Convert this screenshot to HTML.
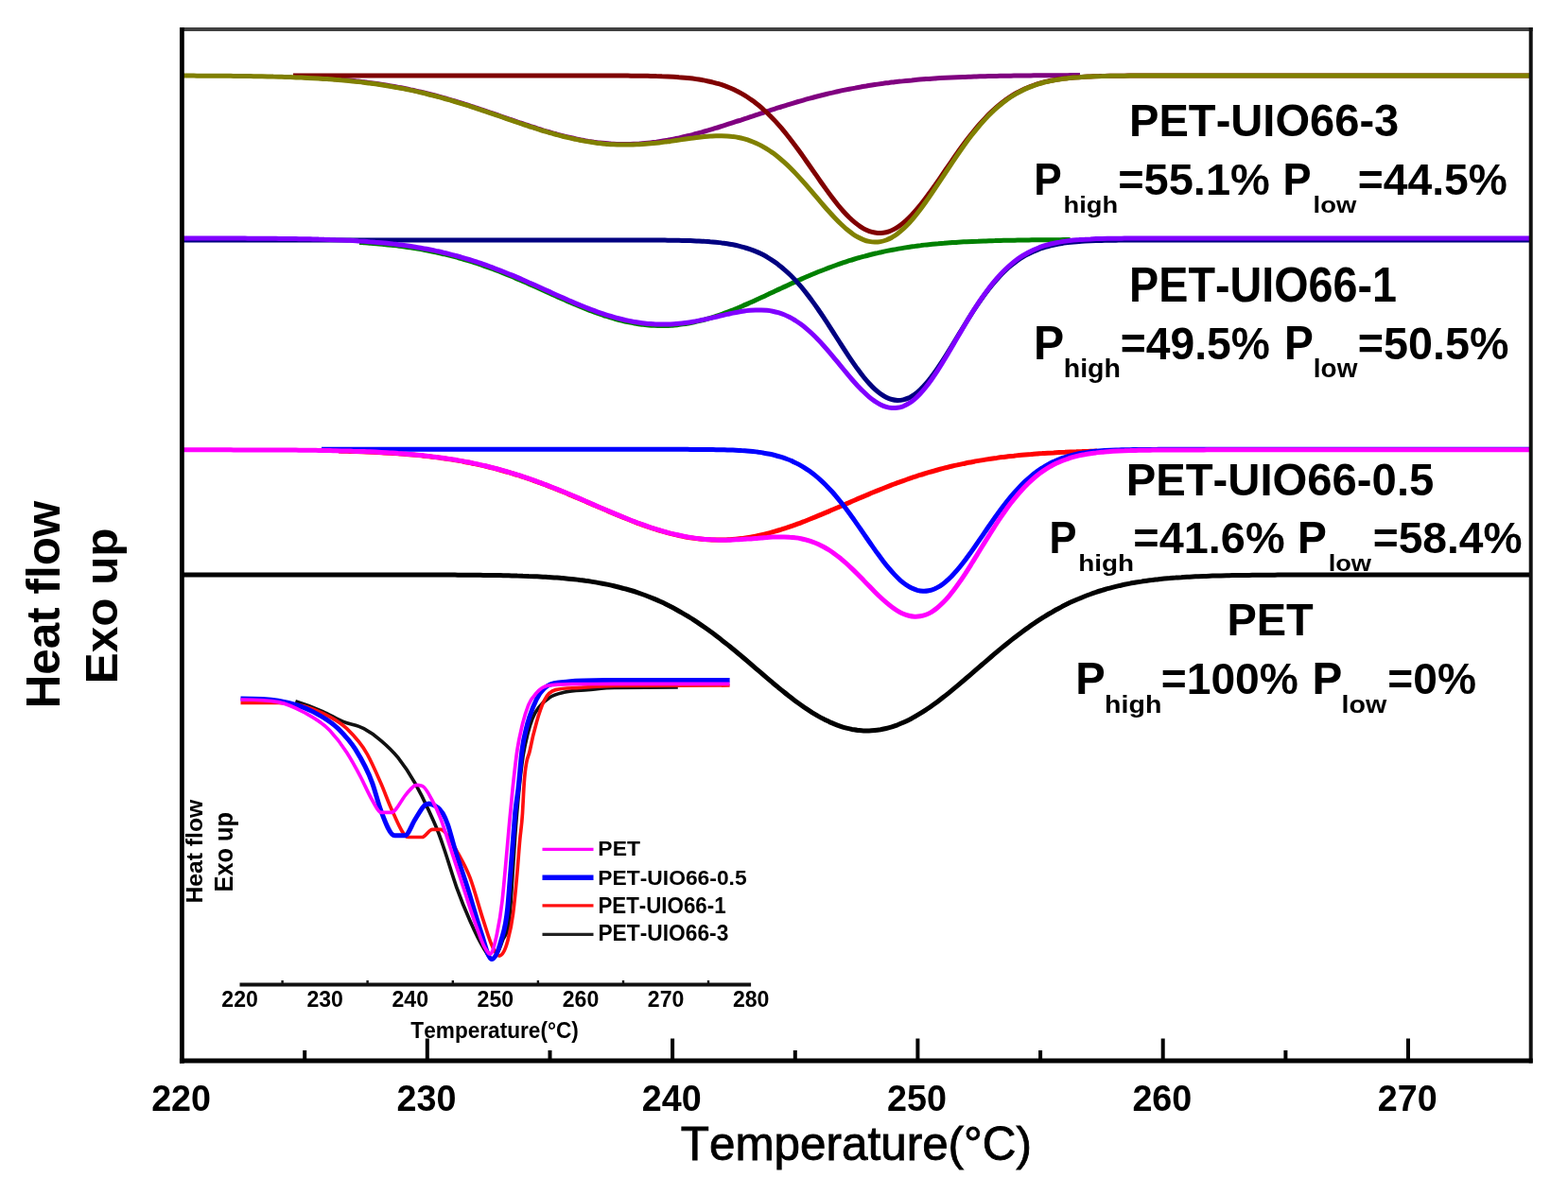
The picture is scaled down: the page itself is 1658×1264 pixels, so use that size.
<!DOCTYPE html>
<html><head><meta charset="utf-8"><title>DSC melting curves</title>
<style>
html,body{margin:0;padding:0;background:#fff;}
body{width:1658px;height:1264px;overflow:hidden;}
svg{display:block;filter:blur(0.5px);}
text{font-family:"Liberation Sans",Arial,Helvetica,sans-serif;fill:#000;font-kerning:none;}
.b{font-weight:bold;}
</style></head>
<body>
<svg width="1658" height="1264" viewBox="0 0 1658 1264">
<rect x="0" y="0" width="1658" height="1264" fill="#fff"/>
<path d="M310.0,81.2 C312.0,81.3 314.0,81.4 316.0,81.5 C318.0,81.6 320.0,81.6 322.0,81.7 C324.0,81.8 326.0,81.9 328.0,82.0 C330.0,82.1 332.0,82.2 334.0,82.3 C336.0,82.5 338.0,82.6 340.0,82.7 C342.0,82.8 344.0,83.0 346.0,83.1 C348.0,83.2 350.0,83.4 352.0,83.5 C354.0,83.7 356.0,83.8 358.0,84.0 C360.0,84.2 362.0,84.4 364.0,84.5 C366.0,84.7 368.0,84.9 370.0,85.1 C372.0,85.3 374.0,85.5 376.0,85.7 C378.0,85.9 380.0,86.2 382.0,86.4 C384.0,86.6 386.0,86.9 388.0,87.1 C390.0,87.4 392.0,87.7 394.0,87.9 C396.0,88.2 398.0,88.5 400.0,88.8 C402.0,89.1 404.0,89.4 406.0,89.7 C408.0,90.0 410.0,90.3 412.0,90.7 C414.0,91.0 416.0,91.4 418.0,91.7 C420.0,92.1 422.0,92.5 424.0,92.8 C426.0,93.2 428.0,93.6 430.0,94.0 C432.0,94.4 434.0,94.9 436.0,95.3 C438.0,95.7 440.0,96.2 442.0,96.6 C444.0,97.1 446.0,97.5 448.0,98.0 C450.0,98.5 452.0,99.0 454.0,99.5 C456.0,100.0 458.0,100.5 460.0,101.0 C462.0,101.6 464.0,102.1 466.0,102.6 C468.0,103.2 470.0,103.8 472.0,104.3 C474.0,104.9 476.0,105.5 478.0,106.1 C480.0,106.7 482.0,107.3 484.0,107.9 C486.0,108.5 488.0,109.1 490.0,109.7 C492.0,110.3 494.0,111.0 496.0,111.6 C498.0,112.3 500.0,112.9 502.0,113.6 C504.0,114.2 506.0,114.9 508.0,115.6 C510.0,116.2 512.0,116.9 514.0,117.6 C516.0,118.3 518.0,119.0 520.0,119.6 C522.0,120.3 524.0,121.0 526.0,121.7 C528.0,122.4 530.0,123.1 532.0,123.8 C534.0,124.5 536.0,125.2 538.0,125.9 C540.0,126.5 542.0,127.2 544.0,127.9 C546.0,128.6 548.0,129.3 550.0,130.0 C552.0,130.6 554.0,131.3 556.0,132.0 C558.0,132.6 560.0,133.3 562.0,134.0 C564.0,134.6 566.0,135.2 568.0,135.9 C570.0,136.5 572.0,137.1 574.0,137.8 C576.0,138.4 578.0,139.0 580.0,139.5 C582.0,140.1 584.0,140.7 586.0,141.3 C588.0,141.8 590.0,142.4 592.0,142.9 C594.0,143.4 596.0,143.9 598.0,144.4 C600.0,144.9 602.0,145.4 604.0,145.8 C606.0,146.3 608.0,146.7 610.0,147.1 C612.0,147.6 614.0,147.9 616.0,148.3 C618.0,148.7 620.0,149.0 622.0,149.4 C624.0,149.7 626.0,150.0 628.0,150.3 C630.0,150.5 632.0,150.8 634.0,151.0 C636.0,151.2 638.0,151.4 640.0,151.6 C642.0,151.8 644.0,151.9 646.0,152.1 C648.0,152.2 650.0,152.3 652.0,152.4 C654.0,152.4 656.0,152.5 658.0,152.5 C660.0,152.5 662.0,152.5 664.0,152.5 C666.0,152.5 668.0,152.4 670.0,152.3 C672.0,152.2 674.0,152.1 676.0,152.0 C678.0,151.8 680.0,151.7 682.0,151.5 C684.0,151.3 686.0,151.1 688.0,150.9 C690.0,150.7 692.0,150.4 694.0,150.2 C696.0,149.9 698.0,149.6 700.0,149.3 C702.0,149.0 704.0,148.6 706.0,148.3 C708.0,147.9 710.0,147.5 712.0,147.1 C714.0,146.7 716.0,146.3 718.0,145.9 C720.0,145.4 722.0,145.0 724.0,144.5 C726.0,144.0 728.0,143.6 730.0,143.1 C732.0,142.6 734.0,142.0 736.0,141.5 C738.0,141.0 740.0,140.4 742.0,139.9 C744.0,139.3 746.0,138.7 748.0,138.1 C750.0,137.6 752.0,137.0 754.0,136.4 C756.0,135.8 758.0,135.1 760.0,134.5 C762.0,133.9 764.0,133.3 766.0,132.6 C768.0,132.0 770.0,131.4 772.0,130.7 C774.0,130.1 776.0,129.4 778.0,128.7 C780.0,128.1 782.0,127.4 784.0,126.8 C786.0,126.1 788.0,125.4 790.0,124.8 C792.0,124.1 794.0,123.4 796.0,122.8 C798.0,122.1 800.0,121.4 802.0,120.8 C804.0,120.1 806.0,119.5 808.0,118.8 C810.0,118.1 812.0,117.5 814.0,116.8 C816.0,116.2 818.0,115.5 820.0,114.9 C822.0,114.3 824.0,113.6 826.0,113.0 C828.0,112.4 830.0,111.7 832.0,111.1 C834.0,110.5 836.0,109.9 838.0,109.3 C840.0,108.7 842.0,108.1 844.0,107.5 C846.0,107.0 848.0,106.4 850.0,105.8 C852.0,105.2 854.0,104.7 856.0,104.1 C858.0,103.6 860.0,103.1 862.0,102.5 C864.0,102.0 866.0,101.5 868.0,101.0 C870.0,100.5 872.0,100.0 874.0,99.5 C876.0,99.0 878.0,98.5 880.0,98.1 C882.0,97.6 884.0,97.2 886.0,96.7 C888.0,96.3 890.0,95.9 892.0,95.4 C894.0,95.0 896.0,94.6 898.0,94.2 C900.0,93.8 902.0,93.4 904.0,93.1 C906.0,92.7 908.0,92.3 910.0,92.0 C912.0,91.6 914.0,91.3 916.0,91.0 C918.0,90.6 920.0,90.3 922.0,90.0 C924.0,89.7 926.0,89.4 928.0,89.1 C930.0,88.8 932.0,88.5 934.0,88.2 C936.0,88.0 938.0,87.7 940.0,87.5 C942.0,87.2 944.0,87.0 946.0,86.7 C948.0,86.5 950.0,86.3 952.0,86.1 C954.0,85.8 956.0,85.6 958.0,85.4 C960.0,85.2 962.0,85.0 964.0,84.9 C966.0,84.7 968.0,84.5 970.0,84.3 C972.0,84.2 974.0,84.0 976.0,83.8 C978.0,83.7 980.0,83.5 982.0,83.4 C984.0,83.3 986.0,83.1 988.0,83.0 C990.0,82.9 992.0,82.7 994.0,82.6 C996.0,82.5 998.0,82.4 1000.0,82.3 C1002.0,82.2 1004.0,82.1 1006.0,82.0 C1008.0,81.9 1010.0,81.8 1012.0,81.7 C1014.0,81.6 1016.0,81.5 1018.0,81.4 C1020.0,81.4 1022.0,81.3 1024.0,81.2 C1026.0,81.2 1028.0,81.1 1030.0,81.0 C1032.0,81.0 1034.0,80.9 1036.0,80.8 C1038.0,80.8 1040.0,80.7 1042.0,80.7 C1044.0,80.6 1046.0,80.6 1048.0,80.5 C1050.0,80.5 1052.0,80.4 1054.0,80.4 C1056.0,80.4 1058.0,80.3 1060.0,80.3 C1062.0,80.3 1064.0,80.2 1066.0,80.2 C1068.0,80.2 1070.0,80.1 1072.0,80.1 C1074.0,80.1 1076.0,80.0 1078.0,80.0 C1080.0,80.0 1082.0,80.0 1084.0,80.0 C1086.0,80.0 1088.0,79.9 1090.0,79.9 C1092.0,79.9 1094.0,79.8 1096.0,79.8 C1098.0,79.8 1100.0,79.8 1102.0,79.8 C1104.0,79.8 1106.0,79.8 1108.0,79.8 C1110.0,79.8 1112.0,79.7 1114.0,79.7 C1116.0,79.7 1118.0,79.7 1120.0,79.7 C1122.0,79.7 1124.0,79.7 1126.0,79.7 C1128.0,79.7 1130.0,79.6 1132.0,79.6 C1134.0,79.6 1136.0,79.6 1138.0,79.6 C1139.3,79.6 1140.7,79.6 1142.0,79.6" fill="none" stroke="#800080" stroke-width="5.0" stroke-linejoin="round" stroke-linecap="butt" />
<path d="M310.0,80.0 C312.0,80.0 314.0,80.0 316.0,80.0 C318.0,80.0 320.0,80.0 322.0,80.0 C324.0,80.0 326.0,80.0 328.0,80.0 C330.0,80.0 332.0,80.0 334.0,80.0 C336.0,80.0 338.0,80.0 340.0,80.0 C342.0,80.0 344.0,80.0 346.0,80.0 C348.0,80.0 350.0,80.0 352.0,80.0 C354.0,80.0 356.0,80.0 358.0,80.0 C360.0,80.0 362.0,80.0 364.0,80.0 C366.0,80.0 368.0,80.0 370.0,80.0 C372.0,80.0 374.0,80.0 376.0,80.0 C378.0,80.0 380.0,80.0 382.0,80.0 C384.0,80.0 386.0,80.0 388.0,80.0 C390.0,80.0 392.0,80.0 394.0,80.0 C396.0,80.0 398.0,80.0 400.0,80.0 C402.0,80.0 404.0,80.0 406.0,80.0 C408.0,80.0 410.0,80.0 412.0,80.0 C414.0,80.0 416.0,80.0 418.0,80.0 C420.0,80.0 422.0,80.0 424.0,80.0 C426.0,80.0 428.0,80.0 430.0,80.0 C432.0,80.0 434.0,80.0 436.0,80.0 C438.0,80.0 440.0,80.0 442.0,80.0 C444.0,80.0 446.0,80.0 448.0,80.0 C450.0,80.0 452.0,80.0 454.0,80.0 C456.0,80.0 458.0,80.0 460.0,80.0 C462.0,80.0 464.0,80.0 466.0,80.0 C468.0,80.0 470.0,80.0 472.0,80.0 C474.0,80.0 476.0,80.0 478.0,80.0 C480.0,80.0 482.0,80.0 484.0,80.0 C486.0,80.0 488.0,80.0 490.0,80.0 C492.0,80.0 494.0,80.0 496.0,80.0 C498.0,80.0 500.0,80.0 502.0,80.0 C504.0,80.0 506.0,80.0 508.0,80.0 C510.0,80.0 512.0,80.0 514.0,80.0 C516.0,80.0 518.0,80.0 520.0,80.0 C522.0,80.0 524.0,80.0 526.0,80.0 C528.0,80.0 530.0,80.0 532.0,80.0 C534.0,80.0 536.0,80.0 538.0,80.0 C540.0,80.0 542.0,80.0 544.0,80.0 C546.0,80.0 548.0,80.0 550.0,80.0 C552.0,80.0 554.0,80.0 556.0,80.0 C558.0,80.0 560.0,80.0 562.0,80.0 C564.0,80.0 566.0,80.0 568.0,80.0 C570.0,80.0 572.0,80.0 574.0,80.0 C576.0,80.0 578.0,80.0 580.0,80.0 C582.0,80.0 584.0,80.0 586.0,80.0 C588.0,80.0 590.0,80.0 592.0,80.0 C594.0,80.0 596.0,80.0 598.0,80.0 C600.0,80.0 602.0,80.0 604.0,80.0 C606.0,80.0 608.0,80.0 610.0,80.0 C612.0,80.0 614.0,80.0 616.0,80.0 C618.0,80.0 620.0,80.0 622.0,80.0 C624.0,80.0 626.0,80.0 628.0,80.0 C630.0,80.0 632.0,80.0 634.0,80.0 C636.0,80.0 638.0,80.0 640.0,80.0 C642.0,80.0 644.0,80.0 646.0,80.0 C648.0,80.0 650.0,80.1 652.0,80.1 C654.0,80.1 656.0,80.1 658.0,80.1 C660.0,80.1 662.0,80.1 664.0,80.1 C666.0,80.1 668.0,80.2 670.0,80.2 C672.0,80.2 674.0,80.2 676.0,80.2 C678.0,80.2 680.0,80.3 682.0,80.3 C684.0,80.3 686.0,80.4 688.0,80.4 C690.0,80.4 692.0,80.5 694.0,80.6 C696.0,80.6 698.0,80.7 700.0,80.8 C702.0,80.8 704.0,80.9 706.0,81.0 C708.0,81.1 710.0,81.2 712.0,81.3 C714.0,81.4 716.0,81.5 718.0,81.7 C720.0,81.8 722.0,82.0 724.0,82.2 C726.0,82.4 728.0,82.6 730.0,82.8 C732.0,83.0 734.0,83.3 736.0,83.6 C738.0,83.9 740.0,84.2 742.0,84.5 C744.0,84.9 746.0,85.2 748.0,85.7 C750.0,86.1 752.0,86.5 754.0,87.1 C756.0,87.6 758.0,88.1 760.0,88.7 C762.0,89.3 764.0,90.0 766.0,90.7 C768.0,91.4 770.0,92.2 772.0,93.0 C774.0,93.9 776.0,94.8 778.0,95.8 C780.0,96.7 782.0,97.8 784.0,98.9 C786.0,100.0 788.0,101.2 790.0,102.5 C792.0,103.8 794.0,105.2 796.0,106.6 C798.0,108.1 800.0,109.7 802.0,111.3 C804.0,112.9 806.0,114.6 808.0,116.5 C810.0,118.3 812.0,120.2 814.0,122.2 C816.0,124.2 818.0,126.3 820.0,128.4 C822.0,130.6 824.0,132.9 826.0,135.2 C828.0,137.6 830.0,140.0 832.0,142.5 C834.0,145.0 836.0,147.6 838.0,150.2 C840.0,152.8 842.0,155.5 844.0,158.3 C846.0,161.0 848.0,163.8 850.0,166.7 C852.0,169.5 854.0,172.4 856.0,175.2 C858.0,178.1 860.0,181.0 862.0,183.9 C864.0,186.7 866.0,189.6 868.0,192.5 C870.0,195.3 872.0,198.1 874.0,200.9 C876.0,203.7 878.0,206.4 880.0,209.0 C882.0,211.6 884.0,214.2 886.0,216.7 C888.0,219.1 890.0,221.5 892.0,223.7 C894.0,225.9 896.0,228.0 898.0,230.0 C900.0,231.9 902.0,233.8 904.0,235.4 C906.0,237.0 908.0,238.5 910.0,239.8 C912.0,241.1 914.0,242.3 916.0,243.2 C918.0,244.1 920.0,244.9 922.0,245.4 C924.0,246.0 926.0,246.3 928.0,246.4 C930.0,246.6 932.0,246.4 934.0,246.2 C936.0,246.0 938.0,245.5 940.0,244.8 C942.0,244.1 944.0,243.2 946.0,242.1 C948.0,241.0 950.0,239.7 952.0,238.2 C954.0,236.8 956.0,235.1 958.0,233.3 C960.0,231.5 962.0,229.6 964.0,227.5 C966.0,225.4 968.0,223.1 970.0,220.7 C972.0,218.4 974.0,215.9 976.0,213.3 C978.0,210.8 980.0,208.1 982.0,205.3 C984.0,202.6 986.0,199.8 988.0,196.9 C990.0,194.1 992.0,191.2 994.0,188.3 C996.0,185.4 998.0,182.4 1000.0,179.5 C1002.0,176.6 1004.0,173.7 1006.0,170.8 C1008.0,167.9 1010.0,165.0 1012.0,162.2 C1014.0,159.3 1016.0,156.6 1018.0,153.8 C1020.0,151.1 1022.0,148.4 1024.0,145.8 C1026.0,143.2 1028.0,140.7 1030.0,138.3 C1032.0,135.8 1034.0,133.4 1036.0,131.2 C1038.0,128.9 1040.0,126.7 1042.0,124.6 C1044.0,122.5 1046.0,120.5 1048.0,118.6 C1050.0,116.7 1052.0,114.8 1054.0,113.1 C1056.0,111.4 1058.0,109.8 1060.0,108.2 C1062.0,106.7 1064.0,105.2 1066.0,103.9 C1068.0,102.5 1070.0,101.2 1072.0,100.0 C1074.0,98.8 1076.0,97.7 1078.0,96.7 C1080.0,95.6 1082.0,94.7 1084.0,93.8 C1086.0,92.9 1088.0,92.1 1090.0,91.3 C1092.0,90.6 1094.0,89.9 1096.0,89.2 C1098.0,88.6 1100.0,88.0 1102.0,87.4 C1104.0,86.9 1106.0,86.4 1108.0,86.0 C1110.0,85.5 1112.0,85.1 1114.0,84.8 C1116.0,84.4 1118.0,84.1 1120.0,83.8 C1122.0,83.5 1124.0,83.2 1126.0,82.9 C1128.0,82.7 1130.0,82.5 1132.0,82.3 C1134.0,82.1 1136.0,81.9 1138.0,81.8 C1140.0,81.6 1142.0,81.5 1144.0,81.4 C1146.0,81.2 1148.0,81.1 1150.0,81.0 C1152.0,80.9 1154.0,80.9 1156.0,80.8 C1158.0,80.7 1160.0,80.6 1162.0,80.6 C1164.0,80.5 1166.0,80.4 1168.0,80.4 C1170.0,80.4 1172.0,80.3 1174.0,80.3 C1176.0,80.3 1178.0,80.2 1180.0,80.2 C1182.0,80.2 1184.0,80.2 1186.0,80.2 C1188.0,80.2 1190.0,80.1 1192.0,80.1 C1194.0,80.1 1196.0,80.1 1198.0,80.1 C1200.0,80.1 1202.0,80.1 1204.0,80.1 C1206.0,80.1 1208.0,80.0 1210.0,80.0 C1212.0,80.0 1214.0,80.0 1216.0,80.0 C1218.0,80.0 1220.0,80.0 1222.0,80.0 C1224.0,80.0 1226.0,80.0 1228.0,80.0 C1230.0,80.0 1232.0,80.0 1234.0,80.0 C1236.0,80.0 1238.0,80.0 1240.0,80.0 C1242.0,80.0 1244.0,80.0 1246.0,80.0 C1248.0,80.0 1250.0,80.0 1252.0,80.0 C1254.0,80.0 1256.0,80.0 1258.0,80.0 C1260.0,80.0 1262.0,80.0 1264.0,80.0 C1266.0,80.0 1268.0,80.0 1270.0,80.0 C1272.0,80.0 1274.0,80.0 1276.0,80.0 C1278.0,80.0 1280.0,80.0 1282.0,80.0 C1284.0,80.0 1286.0,80.0 1288.0,80.0 C1290.0,80.0 1292.0,80.0 1294.0,80.0 C1296.0,80.0 1298.0,80.0 1300.0,80.0 C1302.0,80.0 1304.0,80.0 1306.0,80.0 C1308.0,80.0 1310.0,80.0 1312.0,80.0 C1314.0,80.0 1316.0,80.0 1318.0,80.0 C1320.0,80.0 1322.0,80.0 1324.0,80.0 C1326.0,80.0 1328.0,80.0 1330.0,80.0 C1332.0,80.0 1334.0,80.0 1336.0,80.0 C1338.0,80.0 1340.0,80.0 1342.0,80.0 C1344.0,80.0 1346.0,80.0 1348.0,80.0 C1350.0,80.0 1352.0,80.0 1354.0,80.0 C1356.0,80.0 1358.0,80.0 1360.0,80.0 C1362.0,80.0 1364.0,80.0 1366.0,80.0 C1368.0,80.0 1370.0,80.0 1372.0,80.0 C1374.0,80.0 1376.0,80.0 1378.0,80.0 C1380.0,80.0 1382.0,80.0 1384.0,80.0 C1386.0,80.0 1388.0,80.0 1390.0,80.0 C1392.0,80.0 1394.0,80.0 1396.0,80.0 C1398.0,80.0 1400.0,80.0 1402.0,80.0 C1404.0,80.0 1406.0,80.0 1408.0,80.0 C1410.0,80.0 1412.0,80.0 1414.0,80.0 C1416.0,80.0 1418.0,80.0 1420.0,80.0 C1422.0,80.0 1424.0,80.0 1426.0,80.0 C1428.0,80.0 1430.0,80.0 1432.0,80.0 C1434.0,80.0 1436.0,80.0 1438.0,80.0 C1440.0,80.0 1442.0,80.0 1444.0,80.0 C1446.0,80.0 1448.0,80.0 1450.0,80.0 C1452.0,80.0 1454.0,80.0 1456.0,80.0 C1458.0,80.0 1460.0,80.0 1462.0,80.0 C1464.0,80.0 1466.0,80.0 1468.0,80.0 C1470.0,80.0 1472.0,80.0 1474.0,80.0 C1476.0,80.0 1478.0,80.0 1480.0,80.0 C1482.0,80.0 1484.0,80.0 1486.0,80.0 C1488.0,80.0 1490.0,80.0 1492.0,80.0 C1494.0,80.0 1496.0,80.0 1498.0,80.0 C1500.0,80.0 1502.0,80.0 1504.0,80.0 C1506.0,80.0 1508.0,80.0 1510.0,80.0 C1512.0,80.0 1514.0,80.0 1516.0,80.0 C1518.0,80.0 1520.0,80.0 1522.0,80.0 C1524.0,80.0 1526.0,80.0 1528.0,80.0 C1530.0,80.0 1532.0,80.0 1534.0,80.0 C1536.0,80.0 1538.0,80.0 1540.0,80.0 C1542.0,80.0 1544.0,80.0 1546.0,80.0 C1548.0,80.0 1550.0,80.0 1552.0,80.0 C1554.0,80.0 1556.0,80.0 1558.0,80.0 C1560.0,80.0 1562.0,80.0 1564.0,80.0 C1566.0,80.0 1568.0,80.0 1570.0,80.0 C1572.0,80.0 1574.0,80.0 1576.0,80.0 C1578.0,80.0 1580.0,80.0 1582.0,80.0 C1584.0,80.0 1586.0,80.0 1588.0,80.0 C1590.0,80.0 1592.0,80.0 1594.0,80.0 C1596.0,80.0 1598.0,80.0 1600.0,80.0 C1602.0,80.0 1604.0,80.0 1606.0,80.0 C1608.0,80.0 1610.0,80.0 1612.0,80.0 C1613.7,80.0 1615.3,80.0 1617.0,80.0" fill="none" stroke="#800000" stroke-width="5.0" stroke-linejoin="round" stroke-linecap="butt" />
<path d="M193.0,80.1 C195.0,80.1 197.0,80.1 199.0,80.1 C201.0,80.1 203.0,80.1 205.0,80.1 C207.0,80.1 209.0,80.2 211.0,80.2 C213.0,80.2 215.0,80.2 217.0,80.2 C219.0,80.2 221.0,80.2 223.0,80.2 C225.0,80.2 227.0,80.3 229.0,80.3 C231.0,80.3 233.0,80.3 235.0,80.3 C237.0,80.3 239.0,80.3 241.0,80.3 C243.0,80.3 245.0,80.4 247.0,80.4 C249.0,80.4 251.0,80.5 253.0,80.5 C255.0,80.5 257.0,80.5 259.0,80.5 C261.0,80.5 263.0,80.6 265.0,80.6 C267.0,80.6 269.0,80.7 271.0,80.7 C273.0,80.7 275.0,80.8 277.0,80.8 C279.0,80.8 281.0,80.9 283.0,81.0 C285.0,81.0 287.0,81.0 289.0,81.1 C291.0,81.1 293.0,81.2 295.0,81.3 C297.0,81.3 299.0,81.4 301.0,81.4 C303.0,81.5 305.0,81.6 307.0,81.6 C309.0,81.7 311.0,81.8 313.0,81.9 C315.0,81.9 317.0,82.0 319.0,82.1 C321.0,82.2 323.0,82.3 325.0,82.4 C327.0,82.5 329.0,82.6 331.0,82.7 C333.0,82.8 335.0,82.9 337.0,83.0 C339.0,83.1 341.0,83.3 343.0,83.4 C345.0,83.5 347.0,83.7 349.0,83.8 C351.0,84.0 353.0,84.1 355.0,84.3 C357.0,84.4 359.0,84.6 361.0,84.8 C363.0,84.9 365.0,85.1 367.0,85.3 C369.0,85.5 371.0,85.7 373.0,85.9 C375.0,86.1 377.0,86.3 379.0,86.6 C381.0,86.8 383.0,87.0 385.0,87.3 C387.0,87.5 389.0,87.8 391.0,88.0 C393.0,88.3 395.0,88.6 397.0,88.8 C399.0,89.1 401.0,89.4 403.0,89.7 C405.0,90.0 407.0,90.3 409.0,90.7 C411.0,91.0 413.0,91.3 415.0,91.7 C417.0,92.0 419.0,92.4 421.0,92.8 C423.0,93.1 425.0,93.5 427.0,93.9 C429.0,94.3 431.0,94.7 433.0,95.1 C435.0,95.6 437.0,96.0 439.0,96.4 C441.0,96.9 443.0,97.3 445.0,97.8 C447.0,98.3 449.0,98.8 451.0,99.2 C453.0,99.7 455.0,100.2 457.0,100.8 C459.0,101.3 461.0,101.8 463.0,102.3 C465.0,102.9 467.0,103.4 469.0,104.0 C471.0,104.5 473.0,105.1 475.0,105.7 C477.0,106.3 479.0,106.9 481.0,107.5 C483.0,108.1 485.0,108.7 487.0,109.3 C489.0,109.9 491.0,110.5 493.0,111.2 C495.0,111.8 497.0,112.4 499.0,113.1 C501.0,113.7 503.0,114.4 505.0,115.1 C507.0,115.7 509.0,116.4 511.0,117.1 C513.0,117.7 515.0,118.4 517.0,119.1 C519.0,119.8 521.0,120.5 523.0,121.2 C525.0,121.9 527.0,122.5 529.0,123.2 C531.0,123.9 533.0,124.6 535.0,125.3 C537.0,126.0 539.0,126.7 541.0,127.4 C543.0,128.1 545.0,128.8 547.0,129.4 C549.0,130.1 551.0,130.8 553.0,131.5 C555.0,132.1 557.0,132.8 559.0,133.5 C561.0,134.1 563.0,134.8 565.0,135.4 C567.0,136.1 569.0,136.7 571.0,137.3 C573.0,137.9 575.0,138.6 577.0,139.2 C579.0,139.8 581.0,140.3 583.0,140.9 C585.0,141.5 587.0,142.0 589.0,142.6 C591.0,143.1 593.0,143.7 595.0,144.2 C597.0,144.7 599.0,145.2 601.0,145.6 C603.0,146.1 605.0,146.6 607.0,147.0 C609.0,147.4 611.0,147.9 613.0,148.2 C615.0,148.6 617.0,149.0 619.0,149.4 C621.0,149.7 623.0,150.0 625.0,150.3 C627.0,150.6 629.0,150.9 631.0,151.2 C633.0,151.4 635.0,151.7 637.0,151.9 C639.0,152.1 641.0,152.2 643.0,152.4 C645.0,152.6 647.0,152.7 649.0,152.8 C651.0,152.9 653.0,153.0 655.0,153.0 C657.0,153.0 659.0,153.1 661.0,153.1 C663.0,153.1 665.0,153.0 667.0,153.0 C669.0,153.0 671.0,152.9 673.0,152.8 C675.0,152.8 677.0,152.7 679.0,152.5 C681.0,152.4 683.0,152.3 685.0,152.1 C687.0,151.9 689.0,151.7 691.0,151.5 C693.0,151.3 695.0,151.1 697.0,150.9 C699.0,150.7 701.0,150.4 703.0,150.1 C705.0,149.9 707.0,149.6 709.0,149.4 C711.0,149.1 713.0,148.8 715.0,148.5 C717.0,148.2 719.0,147.9 721.0,147.6 C723.0,147.4 725.0,147.1 727.0,146.8 C729.0,146.5 731.0,146.2 733.0,146.0 C735.0,145.7 737.0,145.4 739.0,145.2 C741.0,145.0 743.0,144.8 745.0,144.6 C747.0,144.4 749.0,144.2 751.0,144.1 C753.0,144.0 755.0,143.8 757.0,143.8 C759.0,143.8 761.0,143.8 763.0,143.8 C765.0,143.8 767.0,143.9 769.0,144.0 C771.0,144.1 773.0,144.3 775.0,144.6 C777.0,144.8 779.0,145.1 781.0,145.5 C783.0,145.9 785.0,146.4 787.0,146.9 C789.0,147.5 791.0,148.1 793.0,148.8 C795.0,149.5 797.0,150.3 799.0,151.2 C801.0,152.1 803.0,153.0 805.0,154.1 C807.0,155.2 809.0,156.3 811.0,157.6 C813.0,158.8 815.0,160.2 817.0,161.6 C819.0,163.1 821.0,164.6 823.0,166.2 C825.0,167.8 827.0,169.6 829.0,171.4 C831.0,173.2 833.0,175.0 835.0,177.0 C837.0,179.0 839.0,181.0 841.0,183.1 C843.0,185.2 845.0,187.4 847.0,189.6 C849.0,191.8 851.0,194.1 853.0,196.4 C855.0,198.7 857.0,201.0 859.0,203.4 C861.0,205.7 863.0,208.1 865.0,210.4 C867.0,212.8 869.0,215.2 871.0,217.5 C873.0,219.8 875.0,222.1 877.0,224.3 C879.0,226.5 881.0,228.7 883.0,230.8 C885.0,232.9 887.0,234.9 889.0,236.8 C891.0,238.7 893.0,240.6 895.0,242.3 C897.0,243.9 899.0,245.5 901.0,246.9 C903.0,248.4 905.0,249.7 907.0,250.8 C909.0,251.9 911.0,252.8 913.0,253.6 C915.0,254.4 917.0,255.0 919.0,255.4 C921.0,255.8 923.0,256.1 925.0,256.1 C927.0,256.1 929.0,256.0 931.0,255.6 C933.0,255.3 935.0,254.7 937.0,254.0 C939.0,253.2 941.0,252.3 943.0,251.2 C945.0,250.0 947.0,248.7 949.0,247.2 C951.0,245.7 953.0,244.0 955.0,242.2 C957.0,240.3 959.0,238.3 961.0,236.2 C963.0,234.0 965.0,231.7 967.0,229.3 C969.0,226.9 971.0,224.3 973.0,221.7 C975.0,219.1 977.0,216.3 979.0,213.5 C981.0,210.7 983.0,207.8 985.0,204.9 C987.0,201.9 989.0,198.9 991.0,195.9 C993.0,192.9 995.0,189.9 997.0,186.9 C999.0,183.8 1001.0,180.8 1003.0,177.8 C1005.0,174.8 1007.0,171.7 1009.0,168.8 C1011.0,165.8 1013.0,162.9 1015.0,160.0 C1017.0,157.2 1019.0,154.4 1021.0,151.6 C1023.0,148.9 1025.0,146.2 1027.0,143.6 C1029.0,141.0 1031.0,138.5 1033.0,136.1 C1035.0,133.7 1037.0,131.3 1039.0,129.1 C1041.0,126.8 1043.0,124.7 1045.0,122.6 C1047.0,120.6 1049.0,118.6 1051.0,116.7 C1053.0,114.9 1055.0,113.1 1057.0,111.5 C1059.0,109.8 1061.0,108.2 1063.0,106.7 C1065.0,105.2 1067.0,103.8 1069.0,102.5 C1071.0,101.2 1073.0,100.0 1075.0,98.9 C1077.0,97.7 1079.0,96.7 1081.0,95.7 C1083.0,94.7 1085.0,93.8 1087.0,92.9 C1089.0,92.1 1091.0,91.3 1093.0,90.6 C1095.0,89.9 1097.0,89.2 1099.0,88.6 C1101.0,88.0 1103.0,87.5 1105.0,86.9 C1107.0,86.4 1109.0,86.0 1111.0,85.6 C1113.0,85.1 1115.0,84.8 1117.0,84.4 C1119.0,84.1 1121.0,83.8 1123.0,83.5 C1125.0,83.2 1127.0,83.0 1129.0,82.7 C1131.0,82.5 1133.0,82.3 1135.0,82.1 C1137.0,82.0 1139.0,81.8 1141.0,81.7 C1143.0,81.5 1145.0,81.4 1147.0,81.3 C1149.0,81.2 1151.0,81.1 1153.0,81.0 C1155.0,80.9 1157.0,80.8 1159.0,80.7 C1161.0,80.7 1163.0,80.6 1165.0,80.6 C1167.0,80.5 1169.0,80.4 1171.0,80.4 C1173.0,80.4 1175.0,80.3 1177.0,80.3 C1179.0,80.3 1181.0,80.2 1183.0,80.2 C1185.0,80.2 1187.0,80.2 1189.0,80.2 C1191.0,80.2 1193.0,80.1 1195.0,80.1 C1197.0,80.1 1199.0,80.1 1201.0,80.1 C1203.0,80.1 1205.0,80.1 1207.0,80.1 C1209.0,80.1 1211.0,80.0 1213.0,80.0 C1215.0,80.0 1217.0,80.0 1219.0,80.0 C1221.0,80.0 1223.0,80.0 1225.0,80.0 C1227.0,80.0 1229.0,80.0 1231.0,80.0 C1233.0,80.0 1235.0,80.0 1237.0,80.0 C1239.0,80.0 1241.0,80.0 1243.0,80.0 C1245.0,80.0 1247.0,80.0 1249.0,80.0 C1251.0,80.0 1253.0,80.0 1255.0,80.0 C1257.0,80.0 1259.0,80.0 1261.0,80.0 C1263.0,80.0 1265.0,80.0 1267.0,80.0 C1269.0,80.0 1271.0,80.0 1273.0,80.0 C1275.0,80.0 1277.0,80.0 1279.0,80.0 C1281.0,80.0 1283.0,80.0 1285.0,80.0 C1287.0,80.0 1289.0,80.0 1291.0,80.0 C1293.0,80.0 1295.0,80.0 1297.0,80.0 C1299.0,80.0 1301.0,80.0 1303.0,80.0 C1305.0,80.0 1307.0,80.0 1309.0,80.0 C1311.0,80.0 1313.0,80.0 1315.0,80.0 C1317.0,80.0 1319.0,80.0 1321.0,80.0 C1323.0,80.0 1325.0,80.0 1327.0,80.0 C1329.0,80.0 1331.0,80.0 1333.0,80.0 C1335.0,80.0 1337.0,80.0 1339.0,80.0 C1341.0,80.0 1343.0,80.0 1345.0,80.0 C1347.0,80.0 1349.0,80.0 1351.0,80.0 C1353.0,80.0 1355.0,80.0 1357.0,80.0 C1359.0,80.0 1361.0,80.0 1363.0,80.0 C1365.0,80.0 1367.0,80.0 1369.0,80.0 C1371.0,80.0 1373.0,80.0 1375.0,80.0 C1377.0,80.0 1379.0,80.0 1381.0,80.0 C1383.0,80.0 1385.0,80.0 1387.0,80.0 C1389.0,80.0 1391.0,80.0 1393.0,80.0 C1395.0,80.0 1397.0,80.0 1399.0,80.0 C1401.0,80.0 1403.0,80.0 1405.0,80.0 C1407.0,80.0 1409.0,80.0 1411.0,80.0 C1413.0,80.0 1415.0,80.0 1417.0,80.0 C1419.0,80.0 1421.0,80.0 1423.0,80.0 C1425.0,80.0 1427.0,80.0 1429.0,80.0 C1431.0,80.0 1433.0,80.0 1435.0,80.0 C1437.0,80.0 1439.0,80.0 1441.0,80.0 C1443.0,80.0 1445.0,80.0 1447.0,80.0 C1449.0,80.0 1451.0,80.0 1453.0,80.0 C1455.0,80.0 1457.0,80.0 1459.0,80.0 C1461.0,80.0 1463.0,80.0 1465.0,80.0 C1467.0,80.0 1469.0,80.0 1471.0,80.0 C1473.0,80.0 1475.0,80.0 1477.0,80.0 C1479.0,80.0 1481.0,80.0 1483.0,80.0 C1485.0,80.0 1487.0,80.0 1489.0,80.0 C1491.0,80.0 1493.0,80.0 1495.0,80.0 C1497.0,80.0 1499.0,80.0 1501.0,80.0 C1503.0,80.0 1505.0,80.0 1507.0,80.0 C1509.0,80.0 1511.0,80.0 1513.0,80.0 C1515.0,80.0 1517.0,80.0 1519.0,80.0 C1521.0,80.0 1523.0,80.0 1525.0,80.0 C1527.0,80.0 1529.0,80.0 1531.0,80.0 C1533.0,80.0 1535.0,80.0 1537.0,80.0 C1539.0,80.0 1541.0,80.0 1543.0,80.0 C1545.0,80.0 1547.0,80.0 1549.0,80.0 C1551.0,80.0 1553.0,80.0 1555.0,80.0 C1557.0,80.0 1559.0,80.0 1561.0,80.0 C1563.0,80.0 1565.0,80.0 1567.0,80.0 C1569.0,80.0 1571.0,80.0 1573.0,80.0 C1575.0,80.0 1577.0,80.0 1579.0,80.0 C1581.0,80.0 1583.0,80.0 1585.0,80.0 C1587.0,80.0 1589.0,80.0 1591.0,80.0 C1593.0,80.0 1595.0,80.0 1597.0,80.0 C1599.0,80.0 1601.0,80.0 1603.0,80.0 C1605.0,80.0 1607.0,80.0 1609.0,80.0 C1611.0,80.0 1613.0,80.0 1615.0,80.0 C1615.7,80.0 1616.3,80.0 1617.0,80.0" fill="none" stroke="#808000" stroke-width="5.0" stroke-linejoin="round" stroke-linecap="butt" />
<path d="M380.0,256.4 C382.0,256.5 384.0,256.7 386.0,256.8 C388.0,257.0 390.0,257.1 392.0,257.3 C394.0,257.4 396.0,257.6 398.0,257.8 C400.0,257.9 402.0,258.1 404.0,258.3 C406.0,258.5 408.0,258.7 410.0,258.9 C412.0,259.1 414.0,259.3 416.0,259.6 C418.0,259.8 420.0,260.0 422.0,260.3 C424.0,260.5 426.0,260.8 428.0,261.1 C430.0,261.4 432.0,261.6 434.0,261.9 C436.0,262.3 438.0,262.6 440.0,262.9 C442.0,263.2 444.0,263.6 446.0,263.9 C448.0,264.3 450.0,264.6 452.0,265.0 C454.0,265.4 456.0,265.8 458.0,266.2 C460.0,266.6 462.0,267.1 464.0,267.5 C466.0,268.0 468.0,268.4 470.0,268.9 C472.0,269.4 474.0,269.9 476.0,270.4 C478.0,270.9 480.0,271.4 482.0,271.9 C484.0,272.5 486.0,273.0 488.0,273.6 C490.0,274.2 492.0,274.8 494.0,275.4 C496.0,276.0 498.0,276.6 500.0,277.2 C502.0,277.9 504.0,278.5 506.0,279.2 C508.0,279.9 510.0,280.6 512.0,281.3 C514.0,282.0 516.0,282.7 518.0,283.4 C520.0,284.1 522.0,284.9 524.0,285.6 C526.0,286.4 528.0,287.2 530.0,288.0 C532.0,288.8 534.0,289.6 536.0,290.4 C538.0,291.2 540.0,292.0 542.0,292.8 C544.0,293.7 546.0,294.5 548.0,295.4 C550.0,296.2 552.0,297.1 554.0,298.0 C556.0,298.8 558.0,299.7 560.0,300.6 C562.0,301.5 564.0,302.4 566.0,303.3 C568.0,304.2 570.0,305.1 572.0,306.0 C574.0,306.9 576.0,307.8 578.0,308.7 C580.0,309.6 582.0,310.5 584.0,311.4 C586.0,312.3 588.0,313.2 590.0,314.1 C592.0,315.0 594.0,315.9 596.0,316.8 C598.0,317.7 600.0,318.5 602.0,319.4 C604.0,320.3 606.0,321.1 608.0,322.0 C610.0,322.8 612.0,323.7 614.0,324.5 C616.0,325.3 618.0,326.1 620.0,326.9 C622.0,327.7 624.0,328.5 626.0,329.2 C628.0,330.0 630.0,330.7 632.0,331.4 C634.0,332.1 636.0,332.8 638.0,333.5 C640.0,334.1 642.0,334.8 644.0,335.4 C646.0,336.0 648.0,336.6 650.0,337.2 C652.0,337.7 654.0,338.3 656.0,338.8 C658.0,339.3 660.0,339.7 662.0,340.2 C664.0,340.6 666.0,341.0 668.0,341.4 C670.0,341.8 672.0,342.1 674.0,342.5 C676.0,342.8 678.0,343.0 680.0,343.3 C682.0,343.5 684.0,343.7 686.0,343.9 C688.0,344.1 690.0,344.2 692.0,344.3 C694.0,344.4 696.0,344.5 698.0,344.5 C700.0,344.5 702.0,344.4 704.0,344.4 C706.0,344.4 708.0,344.3 710.0,344.2 C712.0,344.0 714.0,343.9 716.0,343.7 C718.0,343.5 720.0,343.2 722.0,342.9 C724.0,342.6 726.0,342.3 728.0,342.0 C730.0,341.6 732.0,341.2 734.0,340.8 C736.0,340.4 738.0,339.9 740.0,339.4 C742.0,338.9 744.0,338.4 746.0,337.8 C748.0,337.3 750.0,336.7 752.0,336.1 C754.0,335.5 756.0,334.8 758.0,334.1 C760.0,333.5 762.0,332.8 764.0,332.1 C766.0,331.3 768.0,330.6 770.0,329.8 C772.0,329.1 774.0,328.3 776.0,327.5 C778.0,326.6 780.0,325.8 782.0,325.0 C784.0,324.1 786.0,323.3 788.0,322.4 C790.0,321.5 792.0,320.7 794.0,319.8 C796.0,318.9 798.0,318.0 800.0,317.0 C802.0,316.1 804.0,315.2 806.0,314.3 C808.0,313.4 810.0,312.4 812.0,311.5 C814.0,310.6 816.0,309.6 818.0,308.7 C820.0,307.8 822.0,306.8 824.0,305.9 C826.0,305.0 828.0,304.0 830.0,303.1 C832.0,302.2 834.0,301.3 836.0,300.3 C838.0,299.4 840.0,298.5 842.0,297.6 C844.0,296.7 846.0,295.8 848.0,294.9 C850.0,294.1 852.0,293.2 854.0,292.3 C856.0,291.5 858.0,290.6 860.0,289.8 C862.0,289.0 864.0,288.1 866.0,287.3 C868.0,286.5 870.0,285.7 872.0,285.0 C874.0,284.2 876.0,283.4 878.0,282.7 C880.0,281.9 882.0,281.2 884.0,280.5 C886.0,279.8 888.0,279.1 890.0,278.4 C892.0,277.7 894.0,277.1 896.0,276.4 C898.0,275.8 900.0,275.1 902.0,274.5 C904.0,273.9 906.0,273.3 908.0,272.7 C910.0,272.2 912.0,271.6 914.0,271.1 C916.0,270.5 918.0,270.0 920.0,269.5 C922.0,269.0 924.0,268.5 926.0,268.0 C928.0,267.6 930.0,267.1 932.0,266.7 C934.0,266.2 936.0,265.8 938.0,265.4 C940.0,265.0 942.0,264.6 944.0,264.2 C946.0,263.9 948.0,263.5 950.0,263.1 C952.0,262.8 954.0,262.5 956.0,262.1 C958.0,261.8 960.0,261.5 962.0,261.2 C964.0,260.9 966.0,260.7 968.0,260.4 C970.0,260.1 972.0,259.9 974.0,259.6 C976.0,259.4 978.0,259.2 980.0,258.9 C982.0,258.7 984.0,258.5 986.0,258.3 C988.0,258.1 990.0,257.9 992.0,257.8 C994.0,257.6 996.0,257.4 998.0,257.3 C1000.0,257.1 1002.0,256.9 1004.0,256.8 C1006.0,256.7 1008.0,256.5 1010.0,256.4 C1012.0,256.3 1014.0,256.1 1016.0,256.0 C1018.0,255.9 1020.0,255.8 1022.0,255.7 C1024.0,255.6 1026.0,255.5 1028.0,255.4 C1030.0,255.3 1032.0,255.2 1034.0,255.2 C1036.0,255.1 1038.0,255.0 1040.0,254.9 C1042.0,254.9 1044.0,254.8 1046.0,254.7 C1048.0,254.7 1050.0,254.6 1052.0,254.6 C1054.0,254.5 1056.0,254.5 1058.0,254.4 C1060.0,254.4 1062.0,254.3 1064.0,254.3 C1066.0,254.3 1068.0,254.2 1070.0,254.2 C1072.0,254.2 1074.0,254.1 1076.0,254.1 C1078.0,254.1 1080.0,254.0 1082.0,254.0 C1084.0,254.0 1086.0,253.9 1088.0,253.9 C1090.0,253.9 1092.0,253.8 1094.0,253.8 C1096.0,253.8 1098.0,253.8 1100.0,253.8 C1102.0,253.8 1104.0,253.7 1106.0,253.7 C1108.0,253.7 1110.0,253.7 1112.0,253.7 C1114.0,253.7 1116.0,253.7 1118.0,253.7 C1120.0,253.7 1122.0,253.6 1124.0,253.6 C1126.0,253.6 1128.0,253.6 1130.0,253.6 C1130.5,253.6 1131.1,253.6 1131.6,253.6" fill="none" stroke="#008000" stroke-width="5.0" stroke-linejoin="round" stroke-linecap="butt" />
<path d="M193.0,254.0 C195.0,254.0 197.0,254.0 199.0,254.0 C201.0,254.0 203.0,254.0 205.0,254.0 C207.0,254.0 209.0,254.0 211.0,254.0 C213.0,254.0 215.0,254.0 217.0,254.0 C219.0,254.0 221.0,254.0 223.0,254.0 C225.0,254.0 227.0,254.0 229.0,254.0 C231.0,254.0 233.0,254.0 235.0,254.0 C237.0,254.0 239.0,254.0 241.0,254.0 C243.0,254.0 245.0,254.0 247.0,254.0 C249.0,254.0 251.0,254.0 253.0,254.0 C255.0,254.0 257.0,254.0 259.0,254.0 C261.0,254.0 263.0,254.0 265.0,254.0 C267.0,254.0 269.0,254.0 271.0,254.0 C273.0,254.0 275.0,254.0 277.0,254.0 C279.0,254.0 281.0,254.0 283.0,254.0 C285.0,254.0 287.0,254.0 289.0,254.0 C291.0,254.0 293.0,254.0 295.0,254.0 C297.0,254.0 299.0,254.0 301.0,254.0 C303.0,254.0 305.0,254.0 307.0,254.0 C309.0,254.0 311.0,254.0 313.0,254.0 C315.0,254.0 317.0,254.0 319.0,254.0 C321.0,254.0 323.0,254.0 325.0,254.0 C327.0,254.0 329.0,254.0 331.0,254.0 C333.0,254.0 335.0,254.0 337.0,254.0 C339.0,254.0 341.0,254.0 343.0,254.0 C345.0,254.0 347.0,254.0 349.0,254.0 C351.0,254.0 353.0,254.0 355.0,254.0 C357.0,254.0 359.0,254.0 361.0,254.0 C363.0,254.0 365.0,254.0 367.0,254.0 C369.0,254.0 371.0,254.0 373.0,254.0 C375.0,254.0 377.0,254.0 379.0,254.0 C381.0,254.0 383.0,254.0 385.0,254.0 C387.0,254.0 389.0,254.0 391.0,254.0 C393.0,254.0 395.0,254.0 397.0,254.0 C399.0,254.0 401.0,254.0 403.0,254.0 C405.0,254.0 407.0,254.0 409.0,254.0 C411.0,254.0 413.0,254.0 415.0,254.0 C417.0,254.0 419.0,254.0 421.0,254.0 C423.0,254.0 425.0,254.0 427.0,254.0 C429.0,254.0 431.0,254.0 433.0,254.0 C435.0,254.0 437.0,254.0 439.0,254.0 C441.0,254.0 443.0,254.0 445.0,254.0 C447.0,254.0 449.0,254.0 451.0,254.0 C453.0,254.0 455.0,254.0 457.0,254.0 C459.0,254.0 461.0,254.0 463.0,254.0 C465.0,254.0 467.0,254.0 469.0,254.0 C471.0,254.0 473.0,254.0 475.0,254.0 C477.0,254.0 479.0,254.0 481.0,254.0 C483.0,254.0 485.0,254.0 487.0,254.0 C489.0,254.0 491.0,254.0 493.0,254.0 C495.0,254.0 497.0,254.0 499.0,254.0 C501.0,254.0 503.0,254.0 505.0,254.0 C507.0,254.0 509.0,254.0 511.0,254.0 C513.0,254.0 515.0,254.0 517.0,254.0 C519.0,254.0 521.0,254.0 523.0,254.0 C525.0,254.0 527.0,254.0 529.0,254.0 C531.0,254.0 533.0,254.0 535.0,254.0 C537.0,254.0 539.0,254.0 541.0,254.0 C543.0,254.0 545.0,254.0 547.0,254.0 C549.0,254.0 551.0,254.0 553.0,254.0 C555.0,254.0 557.0,254.0 559.0,254.0 C561.0,254.0 563.0,254.0 565.0,254.0 C567.0,254.0 569.0,254.0 571.0,254.0 C573.0,254.0 575.0,254.0 577.0,254.0 C579.0,254.0 581.0,254.0 583.0,254.0 C585.0,254.0 587.0,254.0 589.0,254.0 C591.0,254.0 593.0,254.0 595.0,254.0 C597.0,254.0 599.0,254.0 601.0,254.0 C603.0,254.0 605.0,254.0 607.0,254.0 C609.0,254.0 611.0,254.0 613.0,254.0 C615.0,254.0 617.0,254.0 619.0,254.0 C621.0,254.0 623.0,254.0 625.0,254.0 C627.0,254.0 629.0,254.0 631.0,254.0 C633.0,254.0 635.0,254.0 637.0,254.0 C639.0,254.0 641.0,254.0 643.0,254.0 C645.0,254.0 647.0,254.0 649.0,254.0 C651.0,254.0 653.0,254.0 655.0,254.0 C657.0,254.0 659.0,254.0 661.0,254.0 C663.0,254.0 665.0,254.0 667.0,254.0 C669.0,254.0 671.0,254.0 673.0,254.0 C675.0,254.0 677.0,254.0 679.0,254.0 C681.0,254.0 683.0,254.0 685.0,254.0 C687.0,254.0 689.0,254.1 691.0,254.1 C693.0,254.1 695.0,254.1 697.0,254.1 C699.0,254.1 701.0,254.1 703.0,254.1 C705.0,254.1 707.0,254.2 709.0,254.2 C711.0,254.2 713.0,254.3 715.0,254.3 C717.0,254.3 719.0,254.4 721.0,254.4 C723.0,254.4 725.0,254.5 727.0,254.5 C729.0,254.6 731.0,254.6 733.0,254.7 C735.0,254.8 737.0,254.9 739.0,254.9 C741.0,255.0 743.0,255.1 745.0,255.3 C747.0,255.4 749.0,255.5 751.0,255.7 C753.0,255.8 755.0,256.0 757.0,256.2 C759.0,256.4 761.0,256.6 763.0,256.9 C765.0,257.1 767.0,257.4 769.0,257.7 C771.0,258.0 773.0,258.4 775.0,258.8 C777.0,259.2 779.0,259.6 781.0,260.1 C783.0,260.6 785.0,261.1 787.0,261.7 C789.0,262.2 791.0,262.9 793.0,263.6 C795.0,264.3 797.0,265.0 799.0,265.9 C801.0,266.7 803.0,267.6 805.0,268.6 C807.0,269.6 809.0,270.7 811.0,271.8 C813.0,273.0 815.0,274.2 817.0,275.6 C819.0,276.9 821.0,278.3 823.0,279.9 C825.0,281.4 827.0,283.0 829.0,284.8 C831.0,286.5 833.0,288.3 835.0,290.3 C837.0,292.2 839.0,294.3 841.0,296.4 C843.0,298.6 845.0,300.9 847.0,303.2 C849.0,305.6 851.0,308.1 853.0,310.6 C855.0,313.2 857.0,315.8 859.0,318.6 C861.0,321.3 863.0,324.1 865.0,327.0 C867.0,329.9 869.0,332.9 871.0,335.9 C873.0,338.9 875.0,342.0 877.0,345.1 C879.0,348.2 881.0,351.3 883.0,354.5 C885.0,357.6 887.0,360.7 889.0,363.9 C891.0,367.0 893.0,370.1 895.0,373.1 C897.0,376.2 899.0,379.2 901.0,382.1 C903.0,385.0 905.0,387.9 907.0,390.6 C909.0,393.4 911.0,396.0 913.0,398.5 C915.0,401.0 917.0,403.4 919.0,405.5 C921.0,407.7 923.0,409.8 925.0,411.6 C927.0,413.4 929.0,415.1 931.0,416.5 C933.0,418.0 935.0,419.2 937.0,420.2 C939.0,421.2 941.0,422.0 943.0,422.5 C945.0,423.1 947.0,423.4 949.0,423.5 C951.0,423.5 953.0,423.4 955.0,422.9 C957.0,422.5 959.0,421.8 961.0,420.9 C963.0,419.9 965.0,418.7 967.0,417.2 C969.0,415.8 971.0,414.1 973.0,412.2 C975.0,410.3 977.0,408.2 979.0,405.9 C981.0,403.7 983.0,401.2 985.0,398.5 C987.0,395.9 989.0,393.1 991.0,390.2 C993.0,387.3 995.0,384.3 997.0,381.2 C999.0,378.1 1001.0,374.9 1003.0,371.6 C1005.0,368.4 1007.0,365.1 1009.0,361.8 C1011.0,358.5 1013.0,355.1 1015.0,351.8 C1017.0,348.5 1019.0,345.2 1021.0,342.0 C1023.0,338.7 1025.0,335.5 1027.0,332.4 C1029.0,329.3 1031.0,326.2 1033.0,323.2 C1035.0,320.2 1037.0,317.3 1039.0,314.5 C1041.0,311.7 1043.0,309.0 1045.0,306.4 C1047.0,303.8 1049.0,301.3 1051.0,299.0 C1053.0,296.6 1055.0,294.4 1057.0,292.2 C1059.0,290.1 1061.0,288.1 1063.0,286.2 C1065.0,284.3 1067.0,282.5 1069.0,280.9 C1071.0,279.2 1073.0,277.7 1075.0,276.2 C1077.0,274.8 1079.0,273.4 1081.0,272.2 C1083.0,270.9 1085.0,269.8 1087.0,268.8 C1089.0,267.7 1091.0,266.7 1093.0,265.9 C1095.0,265.0 1097.0,264.2 1099.0,263.4 C1101.0,262.7 1103.0,262.1 1105.0,261.4 C1107.0,260.8 1109.0,260.3 1111.0,259.8 C1113.0,259.3 1115.0,258.9 1117.0,258.5 C1119.0,258.1 1121.0,257.8 1123.0,257.5 C1125.0,257.1 1127.0,256.9 1129.0,256.6 C1131.0,256.4 1133.0,256.2 1135.0,256.0 C1137.0,255.8 1139.0,255.6 1141.0,255.5 C1143.0,255.3 1145.0,255.2 1147.0,255.1 C1149.0,255.0 1151.0,254.9 1153.0,254.8 C1155.0,254.7 1157.0,254.6 1159.0,254.6 C1161.0,254.5 1163.0,254.4 1165.0,254.4 C1167.0,254.4 1169.0,254.3 1171.0,254.3 C1173.0,254.3 1175.0,254.2 1177.0,254.2 C1179.0,254.2 1181.0,254.1 1183.0,254.1 C1185.0,254.1 1187.0,254.1 1189.0,254.1 C1191.0,254.1 1193.0,254.1 1195.0,254.1 C1197.0,254.1 1199.0,254.0 1201.0,254.0 C1203.0,254.0 1205.0,254.0 1207.0,254.0 C1209.0,254.0 1211.0,254.0 1213.0,254.0 C1215.0,254.0 1217.0,254.0 1219.0,254.0 C1221.0,254.0 1223.0,254.0 1225.0,254.0 C1227.0,254.0 1229.0,254.0 1231.0,254.0 C1233.0,254.0 1235.0,254.0 1237.0,254.0 C1239.0,254.0 1241.0,254.0 1243.0,254.0 C1245.0,254.0 1247.0,254.0 1249.0,254.0 C1251.0,254.0 1253.0,254.0 1255.0,254.0 C1257.0,254.0 1259.0,254.0 1261.0,254.0 C1263.0,254.0 1265.0,254.0 1267.0,254.0 C1269.0,254.0 1271.0,254.0 1273.0,254.0 C1275.0,254.0 1277.0,254.0 1279.0,254.0 C1281.0,254.0 1283.0,254.0 1285.0,254.0 C1287.0,254.0 1289.0,254.0 1291.0,254.0 C1293.0,254.0 1295.0,254.0 1297.0,254.0 C1299.0,254.0 1301.0,254.0 1303.0,254.0 C1305.0,254.0 1307.0,254.0 1309.0,254.0 C1311.0,254.0 1313.0,254.0 1315.0,254.0 C1317.0,254.0 1319.0,254.0 1321.0,254.0 C1323.0,254.0 1325.0,254.0 1327.0,254.0 C1329.0,254.0 1331.0,254.0 1333.0,254.0 C1335.0,254.0 1337.0,254.0 1339.0,254.0 C1341.0,254.0 1343.0,254.0 1345.0,254.0 C1347.0,254.0 1349.0,254.0 1351.0,254.0 C1353.0,254.0 1355.0,254.0 1357.0,254.0 C1359.0,254.0 1361.0,254.0 1363.0,254.0 C1365.0,254.0 1367.0,254.0 1369.0,254.0 C1371.0,254.0 1373.0,254.0 1375.0,254.0 C1377.0,254.0 1379.0,254.0 1381.0,254.0 C1383.0,254.0 1385.0,254.0 1387.0,254.0 C1389.0,254.0 1391.0,254.0 1393.0,254.0 C1395.0,254.0 1397.0,254.0 1399.0,254.0 C1401.0,254.0 1403.0,254.0 1405.0,254.0 C1407.0,254.0 1409.0,254.0 1411.0,254.0 C1413.0,254.0 1415.0,254.0 1417.0,254.0 C1419.0,254.0 1421.0,254.0 1423.0,254.0 C1425.0,254.0 1427.0,254.0 1429.0,254.0 C1431.0,254.0 1433.0,254.0 1435.0,254.0 C1437.0,254.0 1439.0,254.0 1441.0,254.0 C1443.0,254.0 1445.0,254.0 1447.0,254.0 C1449.0,254.0 1451.0,254.0 1453.0,254.0 C1455.0,254.0 1457.0,254.0 1459.0,254.0 C1461.0,254.0 1463.0,254.0 1465.0,254.0 C1467.0,254.0 1469.0,254.0 1471.0,254.0 C1473.0,254.0 1475.0,254.0 1477.0,254.0 C1479.0,254.0 1481.0,254.0 1483.0,254.0 C1485.0,254.0 1487.0,254.0 1489.0,254.0 C1491.0,254.0 1493.0,254.0 1495.0,254.0 C1497.0,254.0 1499.0,254.0 1501.0,254.0 C1503.0,254.0 1505.0,254.0 1507.0,254.0 C1509.0,254.0 1511.0,254.0 1513.0,254.0 C1515.0,254.0 1517.0,254.0 1519.0,254.0 C1521.0,254.0 1523.0,254.0 1525.0,254.0 C1527.0,254.0 1529.0,254.0 1531.0,254.0 C1533.0,254.0 1535.0,254.0 1537.0,254.0 C1539.0,254.0 1541.0,254.0 1543.0,254.0 C1545.0,254.0 1547.0,254.0 1549.0,254.0 C1551.0,254.0 1553.0,254.0 1555.0,254.0 C1557.0,254.0 1559.0,254.0 1561.0,254.0 C1563.0,254.0 1565.0,254.0 1567.0,254.0 C1569.0,254.0 1571.0,254.0 1573.0,254.0 C1575.0,254.0 1577.0,254.0 1579.0,254.0 C1581.0,254.0 1583.0,254.0 1585.0,254.0 C1587.0,254.0 1589.0,254.0 1591.0,254.0 C1593.0,254.0 1595.0,254.0 1597.0,254.0 C1599.0,254.0 1601.0,254.0 1603.0,254.0 C1605.0,254.0 1607.0,254.0 1609.0,254.0 C1611.0,254.0 1613.0,254.0 1615.0,254.0 C1615.7,254.0 1616.3,254.0 1617.0,254.0" fill="none" stroke="#000080" stroke-width="5.0" stroke-linejoin="round" stroke-linecap="butt" />
<path d="M193.0,252.0 C195.0,252.0 197.0,252.0 199.0,252.0 C201.0,252.0 203.0,252.0 205.0,252.0 C207.0,252.0 209.0,252.0 211.0,252.0 C213.0,252.0 215.0,252.0 217.0,252.0 C219.0,252.0 221.0,252.0 223.0,252.0 C225.0,252.0 227.0,252.1 229.0,252.1 C231.0,252.1 233.0,252.1 235.0,252.1 C237.0,252.1 239.0,252.1 241.0,252.1 C243.0,252.1 245.0,252.1 247.0,252.1 C249.0,252.1 251.0,252.1 253.0,252.1 C255.0,252.1 257.0,252.1 259.0,252.1 C261.0,252.1 263.0,252.2 265.0,252.2 C267.0,252.2 269.0,252.2 271.0,252.2 C273.0,252.2 275.0,252.2 277.0,252.2 C279.0,252.2 281.0,252.3 283.0,252.3 C285.0,252.3 287.0,252.3 289.0,252.3 C291.0,252.3 293.0,252.4 295.0,252.4 C297.0,252.4 299.0,252.4 301.0,252.4 C303.0,252.4 305.0,252.5 307.0,252.5 C309.0,252.5 311.0,252.6 313.0,252.6 C315.0,252.6 317.0,252.7 319.0,252.7 C321.0,252.7 323.0,252.8 325.0,252.8 C327.0,252.8 329.0,252.9 331.0,252.9 C333.0,253.0 335.0,253.0 337.0,253.1 C339.0,253.1 341.0,253.2 343.0,253.3 C345.0,253.3 347.0,253.4 349.0,253.5 C351.0,253.5 353.0,253.6 355.0,253.7 C357.0,253.7 359.0,253.8 361.0,253.9 C363.0,254.0 365.0,254.1 367.0,254.2 C369.0,254.3 371.0,254.4 373.0,254.5 C375.0,254.6 377.0,254.7 379.0,254.9 C381.0,255.0 383.0,255.1 385.0,255.2 C387.0,255.4 389.0,255.5 391.0,255.7 C393.0,255.8 395.0,256.0 397.0,256.2 C399.0,256.3 401.0,256.5 403.0,256.7 C405.0,256.9 407.0,257.1 409.0,257.3 C411.0,257.5 413.0,257.7 415.0,257.9 C417.0,258.2 419.0,258.4 421.0,258.7 C423.0,258.9 425.0,259.2 427.0,259.4 C429.0,259.7 431.0,260.0 433.0,260.3 C435.0,260.6 437.0,260.9 439.0,261.2 C441.0,261.6 443.0,261.9 445.0,262.2 C447.0,262.6 449.0,263.0 451.0,263.3 C453.0,263.7 455.0,264.1 457.0,264.5 C459.0,264.9 461.0,265.4 463.0,265.8 C465.0,266.2 467.0,266.7 469.0,267.2 C471.0,267.6 473.0,268.1 475.0,268.6 C477.0,269.1 479.0,269.6 481.0,270.2 C483.0,270.7 485.0,271.3 487.0,271.8 C489.0,272.4 491.0,273.0 493.0,273.6 C495.0,274.2 497.0,274.8 499.0,275.4 C501.0,276.1 503.0,276.7 505.0,277.4 C507.0,278.0 509.0,278.7 511.0,279.4 C513.0,280.1 515.0,280.8 517.0,281.5 C519.0,282.3 521.0,283.0 523.0,283.8 C525.0,284.5 527.0,285.3 529.0,286.1 C531.0,286.9 533.0,287.7 535.0,288.5 C537.0,289.3 539.0,290.1 541.0,290.9 C543.0,291.8 545.0,292.6 547.0,293.4 C549.0,294.3 551.0,295.2 553.0,296.0 C555.0,296.9 557.0,297.8 559.0,298.7 C561.0,299.5 563.0,300.4 565.0,301.3 C567.0,302.2 569.0,303.1 571.0,304.0 C573.0,304.9 575.0,305.8 577.0,306.7 C579.0,307.6 581.0,308.6 583.0,309.5 C585.0,310.4 587.0,311.3 589.0,312.2 C591.0,313.1 593.0,313.9 595.0,314.8 C597.0,315.7 599.0,316.6 601.0,317.5 C603.0,318.3 605.0,319.2 607.0,320.1 C609.0,320.9 611.0,321.7 613.0,322.6 C615.0,323.4 617.0,324.2 619.0,325.0 C621.0,325.8 623.0,326.6 625.0,327.3 C627.0,328.1 629.0,328.8 631.0,329.6 C633.0,330.3 635.0,331.0 637.0,331.6 C639.0,332.3 641.0,333.0 643.0,333.6 C645.0,334.2 647.0,334.8 649.0,335.4 C651.0,336.0 653.0,336.5 655.0,337.0 C657.0,337.5 659.0,338.0 661.0,338.5 C663.0,338.9 665.0,339.4 667.0,339.7 C669.0,340.1 671.0,340.5 673.0,340.8 C675.0,341.1 677.0,341.4 679.0,341.7 C681.0,342.0 683.0,342.2 685.0,342.4 C687.0,342.5 689.0,342.7 691.0,342.8 C693.0,342.9 695.0,343.1 697.0,343.1 C699.0,343.1 701.0,343.1 703.0,343.1 C705.0,343.1 707.0,343.0 709.0,342.9 C711.0,342.8 713.0,342.7 715.0,342.5 C717.0,342.4 719.0,342.2 721.0,341.9 C723.0,341.7 725.0,341.5 727.0,341.2 C729.0,340.9 731.0,340.6 733.0,340.2 C735.0,339.9 737.0,339.5 739.0,339.1 C741.0,338.7 743.0,338.3 745.0,337.9 C747.0,337.5 749.0,337.0 751.0,336.6 C753.0,336.1 755.0,335.6 757.0,335.2 C759.0,334.7 761.0,334.3 763.0,333.8 C765.0,333.3 767.0,332.9 769.0,332.4 C771.0,332.0 773.0,331.5 775.0,331.1 C777.0,330.7 779.0,330.3 781.0,330.0 C783.0,329.6 785.0,329.3 787.0,329.0 C789.0,328.7 791.0,328.5 793.0,328.3 C795.0,328.1 797.0,327.9 799.0,327.9 C801.0,327.9 803.0,327.9 805.0,327.9 C807.0,327.9 809.0,328.1 811.0,328.3 C813.0,328.5 815.0,328.8 817.0,329.2 C819.0,329.6 821.0,330.1 823.0,330.7 C825.0,331.3 827.0,332.0 829.0,332.8 C831.0,333.6 833.0,334.6 835.0,335.6 C837.0,336.6 839.0,337.8 841.0,339.0 C843.0,340.3 845.0,341.6 847.0,343.1 C849.0,344.6 851.0,346.2 853.0,347.9 C855.0,349.6 857.0,351.4 859.0,353.3 C861.0,355.2 863.0,357.2 865.0,359.3 C867.0,361.3 869.0,363.5 871.0,365.7 C873.0,368.0 875.0,370.3 877.0,372.6 C879.0,375.0 881.0,377.4 883.0,379.8 C885.0,382.2 887.0,384.7 889.0,387.1 C891.0,389.5 893.0,392.0 895.0,394.4 C897.0,396.8 899.0,399.2 901.0,401.5 C903.0,403.8 905.0,406.0 907.0,408.2 C909.0,410.3 911.0,412.4 913.0,414.3 C915.0,416.3 917.0,418.1 919.0,419.8 C921.0,421.5 923.0,423.0 925.0,424.4 C927.0,425.7 929.0,426.9 931.0,427.9 C933.0,428.9 935.0,429.7 937.0,430.3 C939.0,430.9 941.0,431.3 943.0,431.5 C945.0,431.6 947.0,431.5 949.0,431.3 C951.0,431.1 953.0,430.5 955.0,429.8 C957.0,429.0 959.0,428.0 961.0,426.7 C963.0,425.5 965.0,424.0 967.0,422.3 C969.0,420.6 971.0,418.6 973.0,416.5 C975.0,414.4 977.0,412.0 979.0,409.5 C981.0,407.0 983.0,404.3 985.0,401.5 C987.0,398.6 989.0,395.6 991.0,392.6 C993.0,389.5 995.0,386.3 997.0,383.0 C999.0,379.7 1001.0,376.4 1003.0,373.0 C1005.0,369.6 1007.0,366.2 1009.0,362.7 C1011.0,359.3 1013.0,355.8 1015.0,352.4 C1017.0,349.0 1019.0,345.6 1021.0,342.2 C1023.0,338.9 1025.0,335.6 1027.0,332.3 C1029.0,329.1 1031.0,325.9 1033.0,322.9 C1035.0,319.8 1037.0,316.8 1039.0,314.0 C1041.0,311.1 1043.0,308.3 1045.0,305.7 C1047.0,303.0 1049.0,300.5 1051.0,298.1 C1053.0,295.6 1055.0,293.3 1057.0,291.2 C1059.0,289.0 1061.0,286.9 1063.0,285.0 C1065.0,283.1 1067.0,281.3 1069.0,279.6 C1071.0,277.9 1073.0,276.3 1075.0,274.8 C1077.0,273.3 1079.0,272.0 1081.0,270.7 C1083.0,269.4 1085.0,268.3 1087.0,267.2 C1089.0,266.1 1091.0,265.1 1093.0,264.2 C1095.0,263.3 1097.0,262.5 1099.0,261.7 C1101.0,261.0 1103.0,260.3 1105.0,259.7 C1107.0,259.1 1109.0,258.5 1111.0,258.0 C1113.0,257.5 1115.0,257.1 1117.0,256.7 C1119.0,256.3 1121.0,255.9 1123.0,255.6 C1125.0,255.3 1127.0,255.0 1129.0,254.7 C1131.0,254.5 1133.0,254.3 1135.0,254.1 C1137.0,253.9 1139.0,253.7 1141.0,253.6 C1143.0,253.4 1145.0,253.3 1147.0,253.2 C1149.0,253.0 1151.0,252.9 1153.0,252.9 C1155.0,252.8 1157.0,252.7 1159.0,252.6 C1161.0,252.6 1163.0,252.5 1165.0,252.5 C1167.0,252.4 1169.0,252.3 1171.0,252.3 C1173.0,252.3 1175.0,252.2 1177.0,252.2 C1179.0,252.2 1181.0,252.2 1183.0,252.2 C1185.0,252.2 1187.0,252.1 1189.0,252.1 C1191.0,252.1 1193.0,252.1 1195.0,252.1 C1197.0,252.1 1199.0,252.1 1201.0,252.1 C1203.0,252.1 1205.0,252.0 1207.0,252.0 C1209.0,252.0 1211.0,252.0 1213.0,252.0 C1215.0,252.0 1217.0,252.0 1219.0,252.0 C1221.0,252.0 1223.0,252.0 1225.0,252.0 C1227.0,252.0 1229.0,252.0 1231.0,252.0 C1233.0,252.0 1235.0,252.0 1237.0,252.0 C1239.0,252.0 1241.0,252.0 1243.0,252.0 C1245.0,252.0 1247.0,252.0 1249.0,252.0 C1251.0,252.0 1253.0,252.0 1255.0,252.0 C1257.0,252.0 1259.0,252.0 1261.0,252.0 C1263.0,252.0 1265.0,252.0 1267.0,252.0 C1269.0,252.0 1271.0,252.0 1273.0,252.0 C1275.0,252.0 1277.0,252.0 1279.0,252.0 C1281.0,252.0 1283.0,252.0 1285.0,252.0 C1287.0,252.0 1289.0,252.0 1291.0,252.0 C1293.0,252.0 1295.0,252.0 1297.0,252.0 C1299.0,252.0 1301.0,252.0 1303.0,252.0 C1305.0,252.0 1307.0,252.0 1309.0,252.0 C1311.0,252.0 1313.0,252.0 1315.0,252.0 C1317.0,252.0 1319.0,252.0 1321.0,252.0 C1323.0,252.0 1325.0,252.0 1327.0,252.0 C1329.0,252.0 1331.0,252.0 1333.0,252.0 C1335.0,252.0 1337.0,252.0 1339.0,252.0 C1341.0,252.0 1343.0,252.0 1345.0,252.0 C1347.0,252.0 1349.0,252.0 1351.0,252.0 C1353.0,252.0 1355.0,252.0 1357.0,252.0 C1359.0,252.0 1361.0,252.0 1363.0,252.0 C1365.0,252.0 1367.0,252.0 1369.0,252.0 C1371.0,252.0 1373.0,252.0 1375.0,252.0 C1377.0,252.0 1379.0,252.0 1381.0,252.0 C1383.0,252.0 1385.0,252.0 1387.0,252.0 C1389.0,252.0 1391.0,252.0 1393.0,252.0 C1395.0,252.0 1397.0,252.0 1399.0,252.0 C1401.0,252.0 1403.0,252.0 1405.0,252.0 C1407.0,252.0 1409.0,252.0 1411.0,252.0 C1413.0,252.0 1415.0,252.0 1417.0,252.0 C1419.0,252.0 1421.0,252.0 1423.0,252.0 C1425.0,252.0 1427.0,252.0 1429.0,252.0 C1431.0,252.0 1433.0,252.0 1435.0,252.0 C1437.0,252.0 1439.0,252.0 1441.0,252.0 C1443.0,252.0 1445.0,252.0 1447.0,252.0 C1449.0,252.0 1451.0,252.0 1453.0,252.0 C1455.0,252.0 1457.0,252.0 1459.0,252.0 C1461.0,252.0 1463.0,252.0 1465.0,252.0 C1467.0,252.0 1469.0,252.0 1471.0,252.0 C1473.0,252.0 1475.0,252.0 1477.0,252.0 C1479.0,252.0 1481.0,252.0 1483.0,252.0 C1485.0,252.0 1487.0,252.0 1489.0,252.0 C1491.0,252.0 1493.0,252.0 1495.0,252.0 C1497.0,252.0 1499.0,252.0 1501.0,252.0 C1503.0,252.0 1505.0,252.0 1507.0,252.0 C1509.0,252.0 1511.0,252.0 1513.0,252.0 C1515.0,252.0 1517.0,252.0 1519.0,252.0 C1521.0,252.0 1523.0,252.0 1525.0,252.0 C1527.0,252.0 1529.0,252.0 1531.0,252.0 C1533.0,252.0 1535.0,252.0 1537.0,252.0 C1539.0,252.0 1541.0,252.0 1543.0,252.0 C1545.0,252.0 1547.0,252.0 1549.0,252.0 C1551.0,252.0 1553.0,252.0 1555.0,252.0 C1557.0,252.0 1559.0,252.0 1561.0,252.0 C1563.0,252.0 1565.0,252.0 1567.0,252.0 C1569.0,252.0 1571.0,252.0 1573.0,252.0 C1575.0,252.0 1577.0,252.0 1579.0,252.0 C1581.0,252.0 1583.0,252.0 1585.0,252.0 C1587.0,252.0 1589.0,252.0 1591.0,252.0 C1593.0,252.0 1595.0,252.0 1597.0,252.0 C1599.0,252.0 1601.0,252.0 1603.0,252.0 C1605.0,252.0 1607.0,252.0 1609.0,252.0 C1611.0,252.0 1613.0,252.0 1615.0,252.0 C1615.7,252.0 1616.3,252.0 1617.0,252.0" fill="none" stroke="#8000ff" stroke-width="5.0" stroke-linejoin="round" stroke-linecap="butt" />
<path d="M358.0,477.1 C360.0,477.1 362.0,477.2 364.0,477.2 C366.0,477.3 368.0,477.3 370.0,477.4 C372.0,477.4 374.0,477.5 376.0,477.6 C378.0,477.6 380.0,477.7 382.0,477.8 C384.0,477.8 386.0,477.9 388.0,478.0 C390.0,478.1 392.0,478.2 394.0,478.3 C396.0,478.3 398.0,478.4 400.0,478.5 C402.0,478.6 404.0,478.7 406.0,478.9 C408.0,479.0 410.0,479.1 412.0,479.2 C414.0,479.3 416.0,479.4 418.0,479.6 C420.0,479.7 422.0,479.9 424.0,480.0 C426.0,480.2 428.0,480.3 430.0,480.5 C432.0,480.6 434.0,480.8 436.0,481.0 C438.0,481.2 440.0,481.4 442.0,481.5 C444.0,481.7 446.0,481.9 448.0,482.2 C450.0,482.4 452.0,482.6 454.0,482.8 C456.0,483.1 458.0,483.3 460.0,483.6 C462.0,483.8 464.0,484.1 466.0,484.4 C468.0,484.6 470.0,484.9 472.0,485.2 C474.0,485.5 476.0,485.8 478.0,486.1 C480.0,486.5 482.0,486.8 484.0,487.1 C486.0,487.5 488.0,487.8 490.0,488.2 C492.0,488.6 494.0,489.0 496.0,489.3 C498.0,489.7 500.0,490.2 502.0,490.6 C504.0,491.0 506.0,491.4 508.0,491.9 C510.0,492.3 512.0,492.8 514.0,493.3 C516.0,493.8 518.0,494.2 520.0,494.7 C522.0,495.3 524.0,495.8 526.0,496.3 C528.0,496.8 530.0,497.4 532.0,498.0 C534.0,498.5 536.0,499.1 538.0,499.7 C540.0,500.3 542.0,500.9 544.0,501.5 C546.0,502.1 548.0,502.8 550.0,503.4 C552.0,504.1 554.0,504.7 556.0,505.4 C558.0,506.1 560.0,506.8 562.0,507.5 C564.0,508.2 566.0,508.9 568.0,509.6 C570.0,510.3 572.0,511.1 574.0,511.8 C576.0,512.6 578.0,513.3 580.0,514.1 C582.0,514.9 584.0,515.7 586.0,516.5 C588.0,517.3 590.0,518.1 592.0,518.9 C594.0,519.7 596.0,520.5 598.0,521.3 C600.0,522.2 602.0,523.0 604.0,523.9 C606.0,524.7 608.0,525.5 610.0,526.4 C612.0,527.2 614.0,528.1 616.0,529.0 C618.0,529.8 620.0,530.7 622.0,531.6 C624.0,532.4 626.0,533.3 628.0,534.2 C630.0,535.0 632.0,535.9 634.0,536.8 C636.0,537.6 638.0,538.5 640.0,539.3 C642.0,540.2 644.0,541.0 646.0,541.9 C648.0,542.7 650.0,543.6 652.0,544.4 C654.0,545.3 656.0,546.1 658.0,546.9 C660.0,547.7 662.0,548.5 664.0,549.3 C666.0,550.1 668.0,550.9 670.0,551.7 C672.0,552.4 674.0,553.2 676.0,553.9 C678.0,554.7 680.0,555.4 682.0,556.1 C684.0,556.8 686.0,557.5 688.0,558.2 C690.0,558.8 692.0,559.5 694.0,560.1 C696.0,560.7 698.0,561.3 700.0,561.9 C702.0,562.5 704.0,563.1 706.0,563.6 C708.0,564.1 710.0,564.6 712.0,565.1 C714.0,565.6 716.0,566.1 718.0,566.5 C720.0,566.9 722.0,567.3 724.0,567.7 C726.0,568.1 728.0,568.4 730.0,568.7 C732.0,569.0 734.0,569.3 736.0,569.6 C738.0,569.8 740.0,570.0 742.0,570.2 C744.0,570.4 746.0,570.6 748.0,570.7 C750.0,570.8 752.0,571.0 754.0,571.0 C756.0,571.0 758.0,571.1 760.0,571.1 C762.0,571.1 764.0,571.0 766.0,571.0 C768.0,571.0 770.0,570.8 772.0,570.7 C774.0,570.6 776.0,570.4 778.0,570.2 C780.0,570.0 782.0,569.8 784.0,569.6 C786.0,569.3 788.0,569.0 790.0,568.7 C792.0,568.4 794.0,568.1 796.0,567.7 C798.0,567.3 800.0,566.9 802.0,566.5 C804.0,566.1 806.0,565.6 808.0,565.1 C810.0,564.6 812.0,564.1 814.0,563.6 C816.0,563.1 818.0,562.5 820.0,561.9 C822.0,561.3 824.0,560.7 826.0,560.1 C828.0,559.5 830.0,558.8 832.0,558.2 C834.0,557.5 836.0,556.8 838.0,556.1 C840.0,555.4 842.0,554.7 844.0,553.9 C846.0,553.2 848.0,552.4 850.0,551.7 C852.0,550.9 854.0,550.1 856.0,549.3 C858.0,548.5 860.0,547.7 862.0,546.9 C864.0,546.1 866.0,545.3 868.0,544.4 C870.0,543.6 872.0,542.7 874.0,541.9 C876.0,541.0 878.0,540.2 880.0,539.3 C882.0,538.5 884.0,537.6 886.0,536.8 C888.0,535.9 890.0,535.0 892.0,534.2 C894.0,533.3 896.0,532.4 898.0,531.6 C900.0,530.7 902.0,529.8 904.0,529.0 C906.0,528.1 908.0,527.2 910.0,526.4 C912.0,525.5 914.0,524.7 916.0,523.9 C918.0,523.0 920.0,522.2 922.0,521.3 C924.0,520.5 926.0,519.7 928.0,518.9 C930.0,518.1 932.0,517.3 934.0,516.5 C936.0,515.7 938.0,514.9 940.0,514.1 C942.0,513.3 944.0,512.6 946.0,511.8 C948.0,511.1 950.0,510.3 952.0,509.6 C954.0,508.9 956.0,508.2 958.0,507.5 C960.0,506.8 962.0,506.1 964.0,505.4 C966.0,504.7 968.0,504.1 970.0,503.4 C972.0,502.8 974.0,502.1 976.0,501.5 C978.0,500.9 980.0,500.3 982.0,499.7 C984.0,499.1 986.0,498.5 988.0,498.0 C990.0,497.4 992.0,496.8 994.0,496.3 C996.0,495.8 998.0,495.3 1000.0,494.7 C1002.0,494.2 1004.0,493.8 1006.0,493.3 C1008.0,492.8 1010.0,492.3 1012.0,491.9 C1014.0,491.4 1016.0,491.0 1018.0,490.6 C1020.0,490.2 1022.0,489.7 1024.0,489.3 C1026.0,489.0 1028.0,488.6 1030.0,488.2 C1032.0,487.8 1034.0,487.5 1036.0,487.1 C1038.0,486.8 1040.0,486.5 1042.0,486.1 C1044.0,485.8 1046.0,485.5 1048.0,485.2 C1050.0,484.9 1052.0,484.6 1054.0,484.4 C1056.0,484.1 1058.0,483.8 1060.0,483.6 C1062.0,483.3 1064.0,483.1 1066.0,482.8 C1068.0,482.6 1070.0,482.4 1072.0,482.2 C1074.0,481.9 1076.0,481.7 1078.0,481.5 C1080.0,481.4 1082.0,481.2 1084.0,481.0 C1086.0,480.8 1088.0,480.6 1090.0,480.5 C1092.0,480.3 1094.0,480.2 1096.0,480.0 C1098.0,479.9 1100.0,479.7 1102.0,479.6 C1104.0,479.4 1106.0,479.3 1108.0,479.2 C1110.0,479.1 1112.0,479.0 1114.0,478.9 C1116.0,478.7 1118.0,478.6 1120.0,478.5 C1122.0,478.4 1124.0,478.3 1126.0,478.3 C1128.0,478.2 1130.0,478.1 1132.0,478.0 C1134.0,477.9 1136.0,477.8 1138.0,477.8 C1140.0,477.7 1142.0,477.6 1144.0,477.6 C1146.0,477.5 1148.0,477.4 1150.0,477.4 C1152.0,477.3 1154.0,477.3 1156.0,477.2 C1157.3,477.2 1158.7,477.2 1160.0,477.1" fill="none" stroke="#ff0000" stroke-width="5.0" stroke-linejoin="round" stroke-linecap="butt" />
<path d="M340.0,475.3 C342.0,475.3 344.0,475.3 346.0,475.3 C348.0,475.3 350.0,475.3 352.0,475.3 C354.0,475.3 356.0,475.3 358.0,475.3 C360.0,475.3 362.0,475.3 364.0,475.3 C366.0,475.3 368.0,475.3 370.0,475.3 C372.0,475.3 374.0,475.3 376.0,475.3 C378.0,475.3 380.0,475.3 382.0,475.3 C384.0,475.3 386.0,475.3 388.0,475.3 C390.0,475.3 392.0,475.3 394.0,475.3 C396.0,475.3 398.0,475.3 400.0,475.3 C402.0,475.3 404.0,475.3 406.0,475.3 C408.0,475.3 410.0,475.3 412.0,475.3 C414.0,475.3 416.0,475.3 418.0,475.3 C420.0,475.3 422.0,475.3 424.0,475.3 C426.0,475.3 428.0,475.3 430.0,475.3 C432.0,475.3 434.0,475.3 436.0,475.3 C438.0,475.3 440.0,475.3 442.0,475.3 C444.0,475.3 446.0,475.3 448.0,475.3 C450.0,475.3 452.0,475.3 454.0,475.3 C456.0,475.3 458.0,475.3 460.0,475.3 C462.0,475.3 464.0,475.3 466.0,475.3 C468.0,475.3 470.0,475.3 472.0,475.3 C474.0,475.3 476.0,475.3 478.0,475.3 C480.0,475.3 482.0,475.3 484.0,475.3 C486.0,475.3 488.0,475.3 490.0,475.3 C492.0,475.3 494.0,475.3 496.0,475.3 C498.0,475.3 500.0,475.3 502.0,475.3 C504.0,475.3 506.0,475.3 508.0,475.3 C510.0,475.3 512.0,475.3 514.0,475.3 C516.0,475.3 518.0,475.3 520.0,475.3 C522.0,475.3 524.0,475.3 526.0,475.3 C528.0,475.3 530.0,475.3 532.0,475.3 C534.0,475.3 536.0,475.3 538.0,475.3 C540.0,475.3 542.0,475.3 544.0,475.3 C546.0,475.3 548.0,475.3 550.0,475.3 C552.0,475.3 554.0,475.3 556.0,475.3 C558.0,475.3 560.0,475.3 562.0,475.3 C564.0,475.3 566.0,475.3 568.0,475.3 C570.0,475.3 572.0,475.3 574.0,475.3 C576.0,475.3 578.0,475.3 580.0,475.3 C582.0,475.3 584.0,475.3 586.0,475.3 C588.0,475.3 590.0,475.3 592.0,475.3 C594.0,475.3 596.0,475.3 598.0,475.3 C600.0,475.3 602.0,475.3 604.0,475.3 C606.0,475.3 608.0,475.3 610.0,475.3 C612.0,475.3 614.0,475.3 616.0,475.3 C618.0,475.3 620.0,475.3 622.0,475.3 C624.0,475.3 626.0,475.3 628.0,475.3 C630.0,475.3 632.0,475.3 634.0,475.3 C636.0,475.3 638.0,475.3 640.0,475.3 C642.0,475.3 644.0,475.3 646.0,475.3 C648.0,475.3 650.0,475.3 652.0,475.3 C654.0,475.3 656.0,475.3 658.0,475.3 C660.0,475.3 662.0,475.3 664.0,475.3 C666.0,475.3 668.0,475.3 670.0,475.3 C672.0,475.3 674.0,475.3 676.0,475.3 C678.0,475.3 680.0,475.3 682.0,475.3 C684.0,475.3 686.0,475.3 688.0,475.3 C690.0,475.3 692.0,475.3 694.0,475.3 C696.0,475.3 698.0,475.3 700.0,475.3 C702.0,475.3 704.0,475.3 706.0,475.3 C708.0,475.3 710.0,475.3 712.0,475.3 C714.0,475.3 716.0,475.3 718.0,475.3 C720.0,475.3 722.0,475.3 724.0,475.3 C726.0,475.3 728.0,475.4 730.0,475.4 C732.0,475.4 734.0,475.4 736.0,475.4 C738.0,475.4 740.0,475.4 742.0,475.4 C744.0,475.4 746.0,475.5 748.0,475.5 C750.0,475.5 752.0,475.6 754.0,475.6 C756.0,475.6 758.0,475.7 760.0,475.7 C762.0,475.7 764.0,475.7 766.0,475.8 C768.0,475.9 770.0,475.9 772.0,476.0 C774.0,476.1 776.0,476.1 778.0,476.2 C780.0,476.3 782.0,476.4 784.0,476.6 C786.0,476.7 788.0,476.8 790.0,477.0 C792.0,477.2 794.0,477.4 796.0,477.6 C798.0,477.8 800.0,478.0 802.0,478.3 C804.0,478.5 806.0,478.8 808.0,479.2 C810.0,479.5 812.0,479.9 814.0,480.3 C816.0,480.7 818.0,481.2 820.0,481.7 C822.0,482.2 824.0,482.8 826.0,483.4 C828.0,484.0 830.0,484.7 832.0,485.5 C834.0,486.2 836.0,487.0 838.0,487.9 C840.0,488.9 842.0,489.8 844.0,490.9 C846.0,492.0 848.0,493.1 850.0,494.3 C852.0,495.6 854.0,496.9 856.0,498.3 C858.0,499.8 860.0,501.3 862.0,502.9 C864.0,504.5 866.0,506.3 868.0,508.1 C870.0,509.9 872.0,511.8 874.0,513.9 C876.0,515.9 878.0,518.1 880.0,520.3 C882.0,522.5 884.0,524.9 886.0,527.3 C888.0,529.7 890.0,532.2 892.0,534.8 C894.0,537.4 896.0,540.1 898.0,542.8 C900.0,545.5 902.0,548.3 904.0,551.1 C906.0,554.0 908.0,556.9 910.0,559.7 C912.0,562.6 914.0,565.6 916.0,568.5 C918.0,571.4 920.0,574.3 922.0,577.1 C924.0,580.0 926.0,582.9 928.0,585.6 C930.0,588.4 932.0,591.1 934.0,593.7 C936.0,596.3 938.0,598.8 940.0,601.2 C942.0,603.6 944.0,605.8 946.0,607.9 C948.0,610.0 950.0,612.0 952.0,613.8 C954.0,615.5 956.0,617.1 958.0,618.5 C960.0,619.9 962.0,621.1 964.0,622.1 C966.0,623.1 968.0,623.8 970.0,624.4 C972.0,624.9 974.0,625.2 976.0,625.3 C978.0,625.4 980.0,625.2 982.0,624.8 C984.0,624.4 986.0,623.8 988.0,623.0 C990.0,622.1 992.0,621.0 994.0,619.8 C996.0,618.5 998.0,617.0 1000.0,615.3 C1002.0,613.7 1004.0,611.8 1006.0,609.8 C1008.0,607.7 1010.0,605.5 1012.0,603.2 C1014.0,600.9 1016.0,598.4 1018.0,595.8 C1020.0,593.3 1022.0,590.6 1024.0,587.8 C1026.0,585.1 1028.0,582.3 1030.0,579.4 C1032.0,576.5 1034.0,573.6 1036.0,570.7 C1038.0,567.8 1040.0,564.8 1042.0,561.9 C1044.0,559.0 1046.0,556.0 1048.0,553.2 C1050.0,550.3 1052.0,547.4 1054.0,544.7 C1056.0,541.9 1058.0,539.2 1060.0,536.5 C1062.0,533.9 1064.0,531.3 1066.0,528.8 C1068.0,526.4 1070.0,524.0 1072.0,521.7 C1074.0,519.4 1076.0,517.2 1078.0,515.1 C1080.0,513.0 1082.0,511.0 1084.0,509.1 C1086.0,507.2 1088.0,505.5 1090.0,503.8 C1092.0,502.1 1094.0,500.5 1096.0,499.1 C1098.0,497.6 1100.0,496.2 1102.0,495.0 C1104.0,493.7 1106.0,492.5 1108.0,491.4 C1110.0,490.3 1112.0,489.3 1114.0,488.4 C1116.0,487.4 1118.0,486.6 1120.0,485.8 C1122.0,485.0 1124.0,484.3 1126.0,483.7 C1128.0,483.0 1130.0,482.4 1132.0,481.9 C1134.0,481.4 1136.0,480.9 1138.0,480.5 C1140.0,480.0 1142.0,479.6 1144.0,479.3 C1146.0,478.9 1148.0,478.6 1150.0,478.4 C1152.0,478.1 1154.0,477.8 1156.0,477.6 C1158.0,477.4 1160.0,477.2 1162.0,477.0 C1164.0,476.9 1166.0,476.7 1168.0,476.6 C1170.0,476.5 1172.0,476.4 1174.0,476.3 C1176.0,476.2 1178.0,476.1 1180.0,476.0 C1182.0,475.9 1184.0,475.9 1186.0,475.8 C1188.0,475.8 1190.0,475.7 1192.0,475.7 C1194.0,475.7 1196.0,475.6 1198.0,475.6 C1200.0,475.6 1202.0,475.5 1204.0,475.5 C1206.0,475.5 1208.0,475.4 1210.0,475.4 C1212.0,475.4 1214.0,475.4 1216.0,475.4 C1218.0,475.4 1220.0,475.4 1222.0,475.4 C1224.0,475.4 1226.0,475.3 1228.0,475.3 C1230.0,475.3 1232.0,475.3 1234.0,475.3 C1236.0,475.3 1238.0,475.3 1240.0,475.3 C1242.0,475.3 1244.0,475.3 1246.0,475.3 C1248.0,475.3 1250.0,475.3 1252.0,475.3 C1254.0,475.3 1256.0,475.3 1258.0,475.3 C1260.0,475.3 1262.0,475.3 1264.0,475.3 C1266.0,475.3 1268.0,475.3 1270.0,475.3 C1272.0,475.3 1274.0,475.3 1276.0,475.3 C1278.0,475.3 1280.0,475.3 1282.0,475.3 C1284.0,475.3 1286.0,475.3 1288.0,475.3 C1290.0,475.3 1292.0,475.3 1294.0,475.3 C1296.0,475.3 1298.0,475.3 1300.0,475.3 C1302.0,475.3 1304.0,475.3 1306.0,475.3 C1308.0,475.3 1310.0,475.3 1312.0,475.3 C1314.0,475.3 1316.0,475.3 1318.0,475.3 C1320.0,475.3 1322.0,475.3 1324.0,475.3 C1326.0,475.3 1328.0,475.3 1330.0,475.3 C1332.0,475.3 1334.0,475.3 1336.0,475.3 C1338.0,475.3 1340.0,475.3 1342.0,475.3 C1344.0,475.3 1346.0,475.3 1348.0,475.3 C1350.0,475.3 1352.0,475.3 1354.0,475.3 C1356.0,475.3 1358.0,475.3 1360.0,475.3 C1362.0,475.3 1364.0,475.3 1366.0,475.3 C1368.0,475.3 1370.0,475.3 1372.0,475.3 C1374.0,475.3 1376.0,475.3 1378.0,475.3 C1380.0,475.3 1382.0,475.3 1384.0,475.3 C1386.0,475.3 1388.0,475.3 1390.0,475.3 C1392.0,475.3 1394.0,475.3 1396.0,475.3 C1398.0,475.3 1400.0,475.3 1402.0,475.3 C1404.0,475.3 1406.0,475.3 1408.0,475.3 C1410.0,475.3 1412.0,475.3 1414.0,475.3 C1416.0,475.3 1418.0,475.3 1420.0,475.3 C1422.0,475.3 1424.0,475.3 1426.0,475.3 C1428.0,475.3 1430.0,475.3 1432.0,475.3 C1434.0,475.3 1436.0,475.3 1438.0,475.3 C1440.0,475.3 1442.0,475.3 1444.0,475.3 C1446.0,475.3 1448.0,475.3 1450.0,475.3 C1452.0,475.3 1454.0,475.3 1456.0,475.3 C1458.0,475.3 1460.0,475.3 1462.0,475.3 C1464.0,475.3 1466.0,475.3 1468.0,475.3 C1470.0,475.3 1472.0,475.3 1474.0,475.3 C1476.0,475.3 1478.0,475.3 1480.0,475.3 C1482.0,475.3 1484.0,475.3 1486.0,475.3 C1488.0,475.3 1490.0,475.3 1492.0,475.3 C1494.0,475.3 1496.0,475.3 1498.0,475.3 C1500.0,475.3 1502.0,475.3 1504.0,475.3 C1506.0,475.3 1508.0,475.3 1510.0,475.3 C1512.0,475.3 1514.0,475.3 1516.0,475.3 C1518.0,475.3 1520.0,475.3 1522.0,475.3 C1524.0,475.3 1526.0,475.3 1528.0,475.3 C1530.0,475.3 1532.0,475.3 1534.0,475.3 C1536.0,475.3 1538.0,475.3 1540.0,475.3 C1542.0,475.3 1544.0,475.3 1546.0,475.3 C1548.0,475.3 1550.0,475.3 1552.0,475.3 C1554.0,475.3 1556.0,475.3 1558.0,475.3 C1560.0,475.3 1562.0,475.3 1564.0,475.3 C1566.0,475.3 1568.0,475.3 1570.0,475.3 C1572.0,475.3 1574.0,475.3 1576.0,475.3 C1578.0,475.3 1580.0,475.3 1582.0,475.3 C1584.0,475.3 1586.0,475.3 1588.0,475.3 C1590.0,475.3 1592.0,475.3 1594.0,475.3 C1596.0,475.3 1598.0,475.3 1600.0,475.3 C1602.0,475.3 1604.0,475.3 1606.0,475.3 C1608.0,475.3 1610.0,475.3 1612.0,475.3 C1613.7,475.3 1615.3,475.3 1617.0,475.3" fill="none" stroke="#0000ff" stroke-width="5.0" stroke-linejoin="round" stroke-linecap="butt" />
<path d="M193.0,475.8 C195.0,475.8 197.0,475.8 199.0,475.8 C201.0,475.8 203.0,475.8 205.0,475.8 C207.0,475.8 209.0,475.8 211.0,475.8 C213.0,475.8 215.0,475.8 217.0,475.8 C219.0,475.8 221.0,475.8 223.0,475.8 C225.0,475.8 227.0,475.8 229.0,475.8 C231.0,475.8 233.0,475.8 235.0,475.8 C237.0,475.8 239.0,475.8 241.0,475.8 C243.0,475.8 245.0,475.9 247.0,475.9 C249.0,475.9 251.0,475.9 253.0,475.9 C255.0,475.9 257.0,475.9 259.0,475.9 C261.0,475.9 263.0,475.9 265.0,475.9 C267.0,475.9 269.0,475.9 271.0,475.9 C273.0,475.9 275.0,475.9 277.0,475.9 C279.0,475.9 281.0,476.0 283.0,476.0 C285.0,476.0 287.0,476.0 289.0,476.0 C291.0,476.0 293.0,476.0 295.0,476.0 C297.0,476.0 299.0,476.0 301.0,476.0 C303.0,476.0 305.0,476.1 307.0,476.1 C309.0,476.1 311.0,476.1 313.0,476.1 C315.0,476.1 317.0,476.2 319.0,476.2 C321.0,476.2 323.0,476.3 325.0,476.3 C327.0,476.3 329.0,476.3 331.0,476.3 C333.0,476.3 335.0,476.4 337.0,476.4 C339.0,476.4 341.0,476.5 343.0,476.5 C345.0,476.5 347.0,476.6 349.0,476.6 C351.0,476.6 353.0,476.7 355.0,476.7 C357.0,476.7 359.0,476.8 361.0,476.9 C363.0,476.9 365.0,477.0 367.0,477.0 C369.0,477.1 371.0,477.1 373.0,477.2 C375.0,477.2 377.0,477.3 379.0,477.4 C381.0,477.4 383.0,477.5 385.0,477.6 C387.0,477.7 389.0,477.7 391.0,477.8 C393.0,477.9 395.0,478.0 397.0,478.1 C399.0,478.2 401.0,478.3 403.0,478.4 C405.0,478.5 407.0,478.6 409.0,478.7 C411.0,478.8 413.0,479.0 415.0,479.1 C417.0,479.2 419.0,479.3 421.0,479.5 C423.0,479.6 425.0,479.8 427.0,479.9 C429.0,480.1 431.0,480.3 433.0,480.4 C435.0,480.6 437.0,480.8 439.0,481.0 C441.0,481.1 443.0,481.3 445.0,481.5 C447.0,481.8 449.0,482.0 451.0,482.2 C453.0,482.4 455.0,482.6 457.0,482.9 C459.0,483.1 461.0,483.4 463.0,483.7 C465.0,483.9 467.0,484.2 469.0,484.5 C471.0,484.8 473.0,485.1 475.0,485.4 C477.0,485.7 479.0,486.0 481.0,486.3 C483.0,486.7 485.0,487.0 487.0,487.4 C489.0,487.7 491.0,488.1 493.0,488.5 C495.0,488.8 497.0,489.2 499.0,489.7 C501.0,490.1 503.0,490.5 505.0,490.9 C507.0,491.4 509.0,491.8 511.0,492.3 C513.0,492.7 515.0,493.2 517.0,493.7 C519.0,494.2 521.0,494.7 523.0,495.2 C525.0,495.7 527.0,496.3 529.0,496.8 C531.0,497.4 533.0,497.9 535.0,498.5 C537.0,499.1 539.0,499.7 541.0,500.3 C543.0,500.9 545.0,501.5 547.0,502.2 C549.0,502.8 551.0,503.4 553.0,504.1 C555.0,504.8 557.0,505.4 559.0,506.1 C561.0,506.8 563.0,507.5 565.0,508.2 C567.0,508.9 569.0,509.7 571.0,510.4 C573.0,511.2 575.0,511.9 577.0,512.7 C579.0,513.4 581.0,514.2 583.0,515.0 C585.0,515.8 587.0,516.6 589.0,517.4 C591.0,518.2 593.0,519.0 595.0,519.8 C597.0,520.6 599.0,521.5 601.0,522.3 C603.0,523.1 605.0,524.0 607.0,524.8 C609.0,525.7 611.0,526.5 613.0,527.4 C615.0,528.2 617.0,529.1 619.0,530.0 C621.0,530.8 623.0,531.7 625.0,532.6 C627.0,533.4 629.0,534.3 631.0,535.2 C633.0,536.0 635.0,536.9 637.0,537.7 C639.0,538.6 641.0,539.5 643.0,540.3 C645.0,541.2 647.0,542.0 649.0,542.9 C651.0,543.7 653.0,544.5 655.0,545.4 C657.0,546.2 659.0,547.0 661.0,547.8 C663.0,548.6 665.0,549.4 667.0,550.2 C669.0,551.0 671.0,551.7 673.0,552.5 C675.0,553.3 677.0,554.0 679.0,554.7 C681.0,555.4 683.0,556.2 685.0,556.8 C687.0,557.5 689.0,558.2 691.0,558.8 C693.0,559.5 695.0,560.1 697.0,560.7 C699.0,561.3 701.0,561.9 703.0,562.5 C705.0,563.0 707.0,563.6 709.0,564.1 C711.0,564.6 713.0,565.1 715.0,565.5 C717.0,566.0 719.0,566.4 721.0,566.8 C723.0,567.2 725.0,567.6 727.0,568.0 C729.0,568.3 731.0,568.6 733.0,568.9 C735.0,569.2 737.0,569.5 739.0,569.7 C741.0,570.0 743.0,570.2 745.0,570.4 C747.0,570.5 749.0,570.7 751.0,570.8 C753.0,570.9 755.0,571.0 757.0,571.1 C759.0,571.1 761.0,571.2 763.0,571.2 C765.0,571.2 767.0,571.2 769.0,571.2 C771.0,571.2 773.0,571.1 775.0,571.0 C777.0,570.9 779.0,570.8 781.0,570.7 C783.0,570.6 785.0,570.5 787.0,570.3 C789.0,570.2 791.0,570.0 793.0,569.9 C795.0,569.7 797.0,569.6 799.0,569.4 C801.0,569.2 803.0,569.1 805.0,568.9 C807.0,568.8 809.0,568.6 811.0,568.5 C813.0,568.3 815.0,568.2 817.0,568.1 C819.0,568.0 821.0,567.9 823.0,567.9 C825.0,567.9 827.0,567.9 829.0,567.9 C831.0,567.9 833.0,568.0 835.0,568.2 C837.0,568.3 839.0,568.5 841.0,568.8 C843.0,569.0 845.0,569.3 847.0,569.7 C849.0,570.1 851.0,570.6 853.0,571.2 C855.0,571.7 857.0,572.3 859.0,573.1 C861.0,573.8 863.0,574.6 865.0,575.5 C867.0,576.4 869.0,577.4 871.0,578.5 C873.0,579.6 875.0,580.7 877.0,582.0 C879.0,583.3 881.0,584.7 883.0,586.2 C885.0,587.6 887.0,589.2 889.0,590.8 C891.0,592.5 893.0,594.2 895.0,596.0 C897.0,597.8 899.0,599.7 901.0,601.6 C903.0,603.5 905.0,605.5 907.0,607.5 C909.0,609.5 911.0,611.6 913.0,613.6 C915.0,615.7 917.0,617.8 919.0,619.8 C921.0,621.9 923.0,623.9 925.0,625.9 C927.0,627.9 929.0,629.9 931.0,631.8 C933.0,633.7 935.0,635.5 937.0,637.2 C939.0,638.9 941.0,640.6 943.0,642.0 C945.0,643.5 947.0,644.9 949.0,646.1 C951.0,647.3 953.0,648.4 955.0,649.2 C957.0,650.1 959.0,650.8 961.0,651.3 C963.0,651.8 965.0,652.1 967.0,652.2 C969.0,652.3 971.0,652.2 973.0,651.8 C975.0,651.5 977.0,651.0 979.0,650.2 C981.0,649.4 983.0,648.5 985.0,647.3 C987.0,646.1 989.0,644.7 991.0,643.0 C993.0,641.4 995.0,639.6 997.0,637.6 C999.0,635.6 1001.0,633.4 1003.0,631.1 C1005.0,628.7 1007.0,626.2 1009.0,623.6 C1011.0,620.9 1013.0,618.1 1015.0,615.2 C1017.0,612.3 1019.0,609.3 1021.0,606.3 C1023.0,603.2 1025.0,600.0 1027.0,596.8 C1029.0,593.6 1031.0,590.4 1033.0,587.1 C1035.0,583.9 1037.0,580.6 1039.0,577.3 C1041.0,574.0 1043.0,570.8 1045.0,567.6 C1047.0,564.4 1049.0,561.2 1051.0,558.1 C1053.0,554.9 1055.0,551.9 1057.0,548.9 C1059.0,545.9 1061.0,543.0 1063.0,540.2 C1065.0,537.4 1067.0,534.7 1069.0,532.1 C1071.0,529.5 1073.0,527.0 1075.0,524.6 C1077.0,522.2 1079.0,519.9 1081.0,517.7 C1083.0,515.5 1085.0,513.5 1087.0,511.5 C1089.0,509.6 1091.0,507.7 1093.0,506.0 C1095.0,504.3 1097.0,502.6 1099.0,501.1 C1101.0,499.6 1103.0,498.2 1105.0,496.9 C1107.0,495.6 1109.0,494.4 1111.0,493.2 C1113.0,492.1 1115.0,491.1 1117.0,490.1 C1119.0,489.1 1121.0,488.3 1123.0,487.5 C1125.0,486.7 1127.0,485.9 1129.0,485.3 C1131.0,484.6 1133.0,484.0 1135.0,483.4 C1137.0,482.9 1139.0,482.4 1141.0,481.9 C1143.0,481.4 1145.0,481.0 1147.0,480.7 C1149.0,480.3 1151.0,480.0 1153.0,479.7 C1155.0,479.4 1157.0,479.1 1159.0,478.9 C1161.0,478.6 1163.0,478.4 1165.0,478.2 C1167.0,478.0 1169.0,477.9 1171.0,477.7 C1173.0,477.6 1175.0,477.4 1177.0,477.3 C1179.0,477.2 1181.0,477.1 1183.0,477.0 C1185.0,476.9 1187.0,476.8 1189.0,476.8 C1191.0,476.7 1193.0,476.6 1195.0,476.6 C1197.0,476.5 1199.0,476.4 1201.0,476.4 C1203.0,476.4 1205.0,476.3 1207.0,476.3 C1209.0,476.3 1211.0,476.2 1213.0,476.2 C1215.0,476.2 1217.0,476.1 1219.0,476.1 C1221.0,476.1 1223.0,476.1 1225.0,476.1 C1227.0,476.1 1229.0,476.0 1231.0,476.0 C1233.0,476.0 1235.0,476.0 1237.0,476.0 C1239.0,476.0 1241.0,475.9 1243.0,475.9 C1245.0,475.9 1247.0,475.9 1249.0,475.9 C1251.0,475.9 1253.0,475.9 1255.0,475.9 C1257.0,475.9 1259.0,475.9 1261.0,475.9 C1263.0,475.9 1265.0,475.9 1267.0,475.9 C1269.0,475.9 1271.0,475.9 1273.0,475.9 C1275.0,475.9 1277.0,475.8 1279.0,475.8 C1281.0,475.8 1283.0,475.8 1285.0,475.8 C1287.0,475.8 1289.0,475.8 1291.0,475.8 C1293.0,475.8 1295.0,475.8 1297.0,475.8 C1299.0,475.8 1301.0,475.8 1303.0,475.8 C1305.0,475.8 1307.0,475.8 1309.0,475.8 C1311.0,475.8 1313.0,475.8 1315.0,475.8 C1317.0,475.8 1319.0,475.8 1321.0,475.8 C1323.0,475.8 1325.0,475.8 1327.0,475.8 C1329.0,475.8 1331.0,475.8 1333.0,475.8 C1335.0,475.8 1337.0,475.8 1339.0,475.8 C1341.0,475.8 1343.0,475.8 1345.0,475.8 C1347.0,475.8 1349.0,475.8 1351.0,475.8 C1353.0,475.8 1355.0,475.8 1357.0,475.8 C1359.0,475.8 1361.0,475.8 1363.0,475.8 C1365.0,475.8 1367.0,475.8 1369.0,475.8 C1371.0,475.8 1373.0,475.8 1375.0,475.8 C1377.0,475.8 1379.0,475.8 1381.0,475.8 C1383.0,475.8 1385.0,475.8 1387.0,475.8 C1389.0,475.8 1391.0,475.8 1393.0,475.8 C1395.0,475.8 1397.0,475.8 1399.0,475.8 C1401.0,475.8 1403.0,475.8 1405.0,475.8 C1407.0,475.8 1409.0,475.8 1411.0,475.8 C1413.0,475.8 1415.0,475.8 1417.0,475.8 C1419.0,475.8 1421.0,475.8 1423.0,475.8 C1425.0,475.8 1427.0,475.8 1429.0,475.8 C1431.0,475.8 1433.0,475.8 1435.0,475.8 C1437.0,475.8 1439.0,475.8 1441.0,475.8 C1443.0,475.8 1445.0,475.8 1447.0,475.8 C1449.0,475.8 1451.0,475.8 1453.0,475.8 C1455.0,475.8 1457.0,475.8 1459.0,475.8 C1461.0,475.8 1463.0,475.8 1465.0,475.8 C1467.0,475.8 1469.0,475.8 1471.0,475.8 C1473.0,475.8 1475.0,475.8 1477.0,475.8 C1479.0,475.8 1481.0,475.8 1483.0,475.8 C1485.0,475.8 1487.0,475.8 1489.0,475.8 C1491.0,475.8 1493.0,475.8 1495.0,475.8 C1497.0,475.8 1499.0,475.8 1501.0,475.8 C1503.0,475.8 1505.0,475.8 1507.0,475.8 C1509.0,475.8 1511.0,475.8 1513.0,475.8 C1515.0,475.8 1517.0,475.8 1519.0,475.8 C1521.0,475.8 1523.0,475.8 1525.0,475.8 C1527.0,475.8 1529.0,475.8 1531.0,475.8 C1533.0,475.8 1535.0,475.8 1537.0,475.8 C1539.0,475.8 1541.0,475.8 1543.0,475.8 C1545.0,475.8 1547.0,475.8 1549.0,475.8 C1551.0,475.8 1553.0,475.8 1555.0,475.8 C1557.0,475.8 1559.0,475.8 1561.0,475.8 C1563.0,475.8 1565.0,475.8 1567.0,475.8 C1569.0,475.8 1571.0,475.8 1573.0,475.8 C1575.0,475.8 1577.0,475.8 1579.0,475.8 C1581.0,475.8 1583.0,475.8 1585.0,475.8 C1587.0,475.8 1589.0,475.8 1591.0,475.8 C1593.0,475.8 1595.0,475.8 1597.0,475.8 C1599.0,475.8 1601.0,475.8 1603.0,475.8 C1605.0,475.8 1607.0,475.8 1609.0,475.8 C1611.0,475.8 1613.0,475.8 1615.0,475.8 C1615.7,475.8 1616.3,475.8 1617.0,475.8" fill="none" stroke="#ff00ff" stroke-width="5.0" stroke-linejoin="round" stroke-linecap="butt" />
<path d="M193.0,608.0 C195.0,608.0 197.0,608.0 199.0,608.0 C201.0,608.0 203.0,608.0 205.0,608.0 C207.0,608.0 209.0,608.0 211.0,608.0 C213.0,608.0 215.0,608.0 217.0,608.0 C219.0,608.0 221.0,608.0 223.0,608.0 C225.0,608.0 227.0,608.0 229.0,608.0 C231.0,608.0 233.0,608.0 235.0,608.0 C237.0,608.0 239.0,608.0 241.0,608.0 C243.0,608.0 245.0,608.0 247.0,608.0 C249.0,608.0 251.0,608.0 253.0,608.0 C255.0,608.0 257.0,608.0 259.0,608.0 C261.0,608.0 263.0,608.0 265.0,608.0 C267.0,608.0 269.0,608.0 271.0,608.0 C273.0,608.0 275.0,608.0 277.0,608.0 C279.0,608.0 281.0,608.0 283.0,608.0 C285.0,608.0 287.0,608.0 289.0,608.0 C291.0,608.0 293.0,608.0 295.0,608.0 C297.0,608.0 299.0,608.0 301.0,608.0 C303.0,608.0 305.0,608.0 307.0,608.0 C309.0,608.0 311.0,608.0 313.0,608.0 C315.0,608.0 317.0,608.0 319.0,608.0 C321.0,608.0 323.0,608.0 325.0,608.0 C327.0,608.0 329.0,608.0 331.0,608.0 C333.0,608.0 335.0,608.0 337.0,608.0 C339.0,608.0 341.0,608.0 343.0,608.0 C345.0,608.0 347.0,608.0 349.0,608.0 C351.0,608.0 353.0,608.0 355.0,608.0 C357.0,608.0 359.0,608.0 361.0,608.0 C363.0,608.0 365.0,608.0 367.0,608.0 C369.0,608.0 371.0,608.0 373.0,608.0 C375.0,608.0 377.0,608.0 379.0,608.0 C381.0,608.0 383.0,608.0 385.0,608.0 C387.0,608.0 389.0,608.0 391.0,608.0 C393.0,608.0 395.0,608.0 397.0,608.0 C399.0,608.0 401.0,608.0 403.0,608.0 C405.0,608.0 407.0,608.0 409.0,608.0 C411.0,608.0 413.0,608.0 415.0,608.0 C417.0,608.0 419.0,608.0 421.0,608.0 C423.0,608.0 425.0,608.0 427.0,608.0 C429.0,608.0 431.0,608.0 433.0,608.0 C435.0,608.0 437.0,608.0 439.0,608.0 C441.0,608.0 443.0,608.0 445.0,608.0 C447.0,608.0 449.0,608.1 451.0,608.1 C453.0,608.1 455.0,608.1 457.0,608.1 C459.0,608.1 461.0,608.1 463.0,608.1 C465.0,608.1 467.0,608.1 469.0,608.1 C471.0,608.1 473.0,608.1 475.0,608.1 C477.0,608.1 479.0,608.1 481.0,608.1 C483.0,608.1 485.0,608.2 487.0,608.2 C489.0,608.2 491.0,608.2 493.0,608.2 C495.0,608.2 497.0,608.3 499.0,608.3 C501.0,608.3 503.0,608.3 505.0,608.3 C507.0,608.3 509.0,608.4 511.0,608.4 C513.0,608.4 515.0,608.5 517.0,608.5 C519.0,608.5 521.0,608.5 523.0,608.5 C525.0,608.5 527.0,608.6 529.0,608.6 C531.0,608.6 533.0,608.8 535.0,608.8 C537.0,608.8 539.0,608.9 541.0,608.9 C543.0,609.0 545.0,609.0 547.0,609.1 C549.0,609.1 551.0,609.2 553.0,609.3 C555.0,609.3 557.0,609.4 559.0,609.5 C561.0,609.5 563.0,609.6 565.0,609.7 C567.0,609.8 569.0,609.9 571.0,610.0 C573.0,610.1 575.0,610.2 577.0,610.3 C579.0,610.5 581.0,610.6 583.0,610.7 C585.0,610.8 587.0,611.0 589.0,611.1 C591.0,611.3 593.0,611.4 595.0,611.6 C597.0,611.8 599.0,612.0 601.0,612.2 C603.0,612.4 605.0,612.6 607.0,612.8 C609.0,613.0 611.0,613.2 613.0,613.5 C615.0,613.7 617.0,614.0 619.0,614.3 C621.0,614.5 623.0,614.8 625.0,615.1 C627.0,615.4 629.0,615.8 631.0,616.1 C633.0,616.4 635.0,616.8 637.0,617.2 C639.0,617.6 641.0,618.0 643.0,618.4 C645.0,618.8 647.0,619.2 649.0,619.7 C651.0,620.2 653.0,620.7 655.0,621.2 C657.0,621.7 659.0,622.2 661.0,622.8 C663.0,623.3 665.0,623.9 667.0,624.5 C669.0,625.1 671.0,625.7 673.0,626.4 C675.0,627.1 677.0,627.8 679.0,628.5 C681.0,629.2 683.0,629.9 685.0,630.7 C687.0,631.5 689.0,632.3 691.0,633.1 C693.0,634.0 695.0,634.8 697.0,635.7 C699.0,636.6 701.0,637.6 703.0,638.5 C705.0,639.5 707.0,640.5 709.0,641.5 C711.0,642.5 713.0,643.6 715.0,644.7 C717.0,645.8 719.0,646.9 721.0,648.1 C723.0,649.2 725.0,650.4 727.0,651.6 C729.0,652.9 731.0,654.1 733.0,655.4 C735.0,656.7 737.0,658.0 739.0,659.4 C741.0,660.7 743.0,662.1 745.0,663.5 C747.0,664.9 749.0,666.3 751.0,667.8 C753.0,669.2 755.0,670.7 757.0,672.3 C759.0,673.8 761.0,675.3 763.0,676.9 C765.0,678.4 767.0,680.0 769.0,681.6 C771.0,683.2 773.0,684.9 775.0,686.5 C777.0,688.1 779.0,689.8 781.0,691.5 C783.0,693.1 785.0,694.8 787.0,696.5 C789.0,698.2 791.0,699.9 793.0,701.6 C795.0,703.4 797.0,705.1 799.0,706.8 C801.0,708.5 803.0,710.2 805.0,711.9 C807.0,713.7 809.0,715.4 811.0,717.1 C813.0,718.8 815.0,720.5 817.0,722.2 C819.0,723.8 821.0,725.5 823.0,727.2 C825.0,728.8 827.0,730.4 829.0,732.0 C831.0,733.7 833.0,735.2 835.0,736.8 C837.0,738.4 839.0,739.9 841.0,741.4 C843.0,742.9 845.0,744.3 847.0,745.7 C849.0,747.2 851.0,748.6 853.0,749.9 C855.0,751.2 857.0,752.5 859.0,753.8 C861.0,755.0 863.0,756.2 865.0,757.4 C867.0,758.5 869.0,759.6 871.0,760.6 C873.0,761.7 875.0,762.6 877.0,763.6 C879.0,764.5 881.0,765.3 883.0,766.1 C885.0,766.9 887.0,767.6 889.0,768.3 C891.0,769.0 893.0,769.6 895.0,770.1 C897.0,770.6 899.0,771.1 901.0,771.5 C903.0,771.8 905.0,772.2 907.0,772.4 C909.0,772.6 911.0,772.9 913.0,772.9 C915.0,772.9 917.0,773.0 919.0,773.0 C921.0,773.0 923.0,772.8 925.0,772.6 C927.0,772.4 929.0,772.1 931.0,771.8 C933.0,771.4 935.0,771.0 937.0,770.5 C939.0,770.1 941.0,769.5 943.0,768.9 C945.0,768.2 947.0,767.5 949.0,766.8 C951.0,766.0 953.0,765.2 955.0,764.3 C957.0,763.4 959.0,762.5 961.0,761.5 C963.0,760.4 965.0,759.4 967.0,758.2 C969.0,757.1 971.0,755.9 973.0,754.7 C975.0,753.5 977.0,752.2 979.0,750.9 C981.0,749.5 983.0,748.2 985.0,746.7 C987.0,745.3 989.0,743.9 991.0,742.4 C993.0,740.9 995.0,739.4 997.0,737.8 C999.0,736.3 1001.0,734.7 1003.0,733.1 C1005.0,731.4 1007.0,729.8 1009.0,728.1 C1011.0,726.5 1013.0,724.8 1015.0,723.1 C1017.0,721.4 1019.0,719.7 1021.0,718.0 C1023.0,716.3 1025.0,714.6 1027.0,712.8 C1029.0,711.1 1031.0,709.4 1033.0,707.6 C1035.0,705.9 1037.0,704.2 1039.0,702.5 C1041.0,700.7 1043.0,699.0 1045.0,697.3 C1047.0,695.6 1049.0,693.9 1051.0,692.2 C1053.0,690.5 1055.0,688.8 1057.0,687.1 C1059.0,685.5 1061.0,683.8 1063.0,682.2 C1065.0,680.6 1067.0,679.0 1069.0,677.4 C1071.0,675.8 1073.0,674.3 1075.0,672.7 C1077.0,671.2 1079.0,669.7 1081.0,668.2 C1083.0,666.7 1085.0,665.3 1087.0,663.9 C1089.0,662.4 1091.0,661.0 1093.0,659.7 C1095.0,658.3 1097.0,657.0 1099.0,655.7 C1101.0,654.4 1103.0,653.1 1105.0,651.9 C1107.0,650.6 1109.0,649.4 1111.0,648.3 C1113.0,647.1 1115.0,645.9 1117.0,644.8 C1119.0,643.7 1121.0,642.7 1123.0,641.6 C1125.0,640.6 1127.0,639.6 1129.0,638.6 C1131.0,637.6 1133.0,636.7 1135.0,635.8 C1137.0,634.9 1139.0,634.0 1141.0,633.2 C1143.0,632.3 1145.0,631.5 1147.0,630.7 C1149.0,629.9 1151.0,629.2 1153.0,628.5 C1155.0,627.7 1157.0,627.0 1159.0,626.4 C1161.0,625.7 1163.0,625.1 1165.0,624.5 C1167.0,623.8 1169.0,623.3 1171.0,622.7 C1173.0,622.1 1175.0,621.6 1177.0,621.1 C1179.0,620.6 1181.0,620.1 1183.0,619.6 C1185.0,619.2 1187.0,618.7 1189.0,618.3 C1191.0,617.9 1193.0,617.5 1195.0,617.1 C1197.0,616.7 1199.0,616.4 1201.0,616.0 C1203.0,615.7 1205.0,615.4 1207.0,615.1 C1209.0,614.7 1211.0,614.5 1213.0,614.2 C1215.0,613.9 1217.0,613.7 1219.0,613.4 C1221.0,613.2 1223.0,612.9 1225.0,612.7 C1227.0,612.5 1229.0,612.3 1231.0,612.1 C1233.0,611.9 1235.0,611.7 1237.0,611.6 C1239.0,611.4 1241.0,611.2 1243.0,611.1 C1245.0,610.9 1247.0,610.8 1249.0,610.7 C1251.0,610.5 1253.0,610.4 1255.0,610.3 C1257.0,610.2 1259.0,610.1 1261.0,610.0 C1263.0,609.9 1265.0,609.8 1267.0,609.7 C1269.0,609.6 1271.0,609.5 1273.0,609.4 C1275.0,609.4 1277.0,609.3 1279.0,609.2 C1281.0,609.1 1283.0,609.1 1285.0,609.0 C1287.0,609.0 1289.0,608.9 1291.0,608.9 C1293.0,608.8 1295.0,608.7 1297.0,608.7 C1299.0,608.7 1301.0,608.6 1303.0,608.6 C1305.0,608.6 1307.0,608.5 1309.0,608.5 C1311.0,608.5 1313.0,608.4 1315.0,608.4 C1317.0,608.4 1319.0,608.4 1321.0,608.4 C1323.0,608.4 1325.0,608.3 1327.0,608.3 C1329.0,608.3 1331.0,608.3 1333.0,608.3 C1335.0,608.3 1337.0,608.2 1339.0,608.2 C1341.0,608.2 1343.0,608.2 1345.0,608.2 C1347.0,608.2 1349.0,608.1 1351.0,608.1 C1353.0,608.1 1355.0,608.1 1357.0,608.1 C1359.0,608.1 1361.0,608.1 1363.0,608.1 C1365.0,608.1 1367.0,608.1 1369.0,608.1 C1371.0,608.1 1373.0,608.1 1375.0,608.1 C1377.0,608.1 1379.0,608.1 1381.0,608.1 C1383.0,608.1 1385.0,608.0 1387.0,608.0 C1389.0,608.0 1391.0,608.0 1393.0,608.0 C1395.0,608.0 1397.0,608.0 1399.0,608.0 C1401.0,608.0 1403.0,608.0 1405.0,608.0 C1407.0,608.0 1409.0,608.0 1411.0,608.0 C1413.0,608.0 1415.0,608.0 1417.0,608.0 C1419.0,608.0 1421.0,608.0 1423.0,608.0 C1425.0,608.0 1427.0,608.0 1429.0,608.0 C1431.0,608.0 1433.0,608.0 1435.0,608.0 C1437.0,608.0 1439.0,608.0 1441.0,608.0 C1443.0,608.0 1445.0,608.0 1447.0,608.0 C1449.0,608.0 1451.0,608.0 1453.0,608.0 C1455.0,608.0 1457.0,608.0 1459.0,608.0 C1461.0,608.0 1463.0,608.0 1465.0,608.0 C1467.0,608.0 1469.0,608.0 1471.0,608.0 C1473.0,608.0 1475.0,608.0 1477.0,608.0 C1479.0,608.0 1481.0,608.0 1483.0,608.0 C1485.0,608.0 1487.0,608.0 1489.0,608.0 C1491.0,608.0 1493.0,608.0 1495.0,608.0 C1497.0,608.0 1499.0,608.0 1501.0,608.0 C1503.0,608.0 1505.0,608.0 1507.0,608.0 C1509.0,608.0 1511.0,608.0 1513.0,608.0 C1515.0,608.0 1517.0,608.0 1519.0,608.0 C1521.0,608.0 1523.0,608.0 1525.0,608.0 C1527.0,608.0 1529.0,608.0 1531.0,608.0 C1533.0,608.0 1535.0,608.0 1537.0,608.0 C1539.0,608.0 1541.0,608.0 1543.0,608.0 C1545.0,608.0 1547.0,608.0 1549.0,608.0 C1551.0,608.0 1553.0,608.0 1555.0,608.0 C1557.0,608.0 1559.0,608.0 1561.0,608.0 C1563.0,608.0 1565.0,608.0 1567.0,608.0 C1569.0,608.0 1571.0,608.0 1573.0,608.0 C1575.0,608.0 1577.0,608.0 1579.0,608.0 C1581.0,608.0 1583.0,608.0 1585.0,608.0 C1587.0,608.0 1589.0,608.0 1591.0,608.0 C1593.0,608.0 1595.0,608.0 1597.0,608.0 C1599.0,608.0 1601.0,608.0 1603.0,608.0 C1605.0,608.0 1607.0,608.0 1609.0,608.0 C1611.0,608.0 1613.0,608.0 1615.0,608.0 C1615.7,608.0 1616.3,608.0 1617.0,608.0" fill="none" stroke="#000" stroke-width="5.0" stroke-linejoin="round" stroke-linecap="butt" />
<line x1="190.0" y1="31" x2="1620.7" y2="31" stroke="#404040" stroke-width="4"/>
<line x1="1618.7" y1="29" x2="1618.7" y2="1124.5" stroke="#111" stroke-width="4"/>
<line x1="192.4" y1="29" x2="192.4" y2="1124.7" stroke="#000" stroke-width="4.8"/>
<line x1="189.9" y1="1122" x2="1620.7" y2="1122" stroke="#000" stroke-width="5.0"/>
<line x1="322.2" y1="1122" x2="322.2" y2="1111" stroke="#000" stroke-width="4"/>
<line x1="451.8" y1="1122" x2="451.8" y2="1098.5" stroke="#000" stroke-width="4"/>
<line x1="581.5" y1="1122" x2="581.5" y2="1111" stroke="#000" stroke-width="4"/>
<line x1="711.1" y1="1122" x2="711.1" y2="1098.5" stroke="#000" stroke-width="4"/>
<line x1="840.8" y1="1122" x2="840.8" y2="1111" stroke="#000" stroke-width="4"/>
<line x1="970.4" y1="1122" x2="970.4" y2="1098.5" stroke="#000" stroke-width="4"/>
<line x1="1100.1" y1="1122" x2="1100.1" y2="1111" stroke="#000" stroke-width="4"/>
<line x1="1229.7" y1="1122" x2="1229.7" y2="1098.5" stroke="#000" stroke-width="4"/>
<line x1="1359.4" y1="1122" x2="1359.4" y2="1111" stroke="#000" stroke-width="4"/>
<line x1="1489.0" y1="1122" x2="1489.0" y2="1098.5" stroke="#000" stroke-width="4"/>
<text class="b" x="160.14" y="1174.60" font-size="38.13" textLength="62.96" lengthAdjust="spacingAndGlyphs">220</text>
<text class="b" x="419.45" y="1174.60" font-size="38.13" textLength="62.96" lengthAdjust="spacingAndGlyphs">230</text>
<text class="b" x="678.76" y="1174.60" font-size="38.13" textLength="62.96" lengthAdjust="spacingAndGlyphs">240</text>
<text class="b" x="938.07" y="1174.60" font-size="38.13" textLength="62.96" lengthAdjust="spacingAndGlyphs">250</text>
<text class="b" x="1197.38" y="1174.60" font-size="38.13" textLength="62.96" lengthAdjust="spacingAndGlyphs">260</text>
<text class="b" x="1456.69" y="1174.60" font-size="38.13" textLength="62.96" lengthAdjust="spacingAndGlyphs">270</text>
<text x="719.79" y="1227.30" font-size="49.85" textLength="371.17" lengthAdjust="spacingAndGlyphs" stroke="#000" stroke-width="0.9">Temperature(°C)</text>
<text class="b" transform="rotate(-90)" x="-749.30" y="63.20" font-size="50.87" textLength="219.51" lengthAdjust="spacingAndGlyphs">Heat flow</text>
<text class="b" transform="rotate(-90)" x="-723.31" y="124.00" font-size="47.82" textLength="164.84" lengthAdjust="spacingAndGlyphs">Exo up</text>
<text class="b" x="1194.05" y="144.30" font-size="47.82" textLength="285.25" lengthAdjust="spacingAndGlyphs">PET-UIO66-3</text>
<text class="b" x="1093.34" y="205.70" font-size="47.38" textLength="29.47" lengthAdjust="spacingAndGlyphs">P</text>
<text class="b" x="1124.49" y="225.30" font-size="24.43" textLength="57.60" lengthAdjust="spacingAndGlyphs">high</text>
<text class="b" x="1182.15" y="205.70" font-size="45.53" textLength="160.69" lengthAdjust="spacingAndGlyphs">=55.1%</text>
<text class="b" x="1356.39" y="205.70" font-size="47.38" textLength="30.05" lengthAdjust="spacingAndGlyphs">P</text>
<text class="b" x="1388.59" y="225.30" font-size="24.43" textLength="45.66" lengthAdjust="spacingAndGlyphs">low</text>
<text class="b" x="1435.88" y="205.70" font-size="45.53" textLength="158.04" lengthAdjust="spacingAndGlyphs">=44.5%</text>
<text class="b" x="1194.08" y="318.90" font-size="52.62" textLength="282.92" lengthAdjust="spacingAndGlyphs">PET-UIO66-1</text>
<text class="b" x="1093.07" y="380.20" font-size="50.73" textLength="32.18" lengthAdjust="spacingAndGlyphs">P</text>
<text class="b" x="1124.71" y="399.20" font-size="28.29" textLength="60.26" lengthAdjust="spacingAndGlyphs">high</text>
<text class="b" x="1184.78" y="380.20" font-size="48.74" textLength="158.04" lengthAdjust="spacingAndGlyphs">=49.5%</text>
<text class="b" x="1357.90" y="380.20" font-size="50.73" textLength="30.88" lengthAdjust="spacingAndGlyphs">P</text>
<text class="b" x="1388.85" y="399.20" font-size="28.29" textLength="46.49" lengthAdjust="spacingAndGlyphs">low</text>
<text class="b" x="1435.86" y="380.20" font-size="48.74" textLength="159.57" lengthAdjust="spacingAndGlyphs">=50.5%</text>
<text class="b" x="1190.64" y="523.50" font-size="48.11" textLength="325.68" lengthAdjust="spacingAndGlyphs">PET-UIO66-0.5</text>
<text class="b" x="1109.49" y="584.90" font-size="47.24" textLength="28.99" lengthAdjust="spacingAndGlyphs">P</text>
<text class="b" x="1140.25" y="603.70" font-size="24.29" textLength="58.88" lengthAdjust="spacingAndGlyphs">high</text>
<text class="b" x="1198.25" y="584.90" font-size="45.39" textLength="160.38" lengthAdjust="spacingAndGlyphs">=41.6%</text>
<text class="b" x="1372.10" y="584.90" font-size="47.24" textLength="30.88" lengthAdjust="spacingAndGlyphs">P</text>
<text class="b" x="1404.70" y="603.70" font-size="24.29" textLength="45.35" lengthAdjust="spacingAndGlyphs">low</text>
<text class="b" x="1451.68" y="584.90" font-size="45.39" textLength="157.93" lengthAdjust="spacingAndGlyphs">=58.4%</text>
<text class="b" x="1297.46" y="672.20" font-size="48.40" textLength="91.35" lengthAdjust="spacingAndGlyphs">PET</text>
<text class="b" x="1137.14" y="734.10" font-size="47.67" textLength="31.47" lengthAdjust="spacingAndGlyphs">P</text>
<text class="b" x="1168.11" y="753.70" font-size="25.39" textLength="60.26" lengthAdjust="spacingAndGlyphs">high</text>
<text class="b" x="1227.78" y="734.10" font-size="45.81" textLength="145.14" lengthAdjust="spacingAndGlyphs">=100%</text>
<text class="b" x="1387.61" y="734.10" font-size="47.67" textLength="31.82" lengthAdjust="spacingAndGlyphs">P</text>
<text class="b" x="1418.60" y="753.70" font-size="25.39" textLength="47.74" lengthAdjust="spacingAndGlyphs">low</text>
<text class="b" x="1467.29" y="734.10" font-size="45.81" textLength="93.63" lengthAdjust="spacingAndGlyphs">=0%</text>
<path d="M312.4,741.7 C322.0,744.7 331.7,748.3 341.3,752.6 C348.5,755.8 355.8,760.4 363.0,763.4 C370.2,766.4 377.5,766.8 384.7,770.7 C390.7,773.9 396.8,778.2 402.8,783.3 C408.8,788.4 414.9,793.9 420.9,801.4 C426.9,809.0 433.0,817.9 439.0,828.6 C443.8,837.2 448.7,847.0 453.5,857.5 C457.1,865.4 460.8,873.0 464.4,882.8 C466.3,887.8 468.1,893.5 470.0,899.0 C474.2,911.5 478.5,926.4 482.7,938.3 C487.5,951.7 492.2,963.2 497.0,973.9 C501.7,984.5 506.5,994.9 511.2,1002.4 C514.0,1006.9 516.9,1013.6 519.7,1013.8 C523.5,1014.1 527.3,1006.9 531.1,995.3 C534.0,986.5 536.8,995.3 539.7,959.7 C540.6,948.1 541.6,931.0 542.5,917.0 C543.5,902.5 544.4,886.9 545.4,874.2 C546.2,863.3 547.1,854.0 547.9,845.0 C549.6,826.7 551.3,811.5 553.0,800.0 C554.7,788.7 556.3,782.7 558.0,776.0 C559.7,769.3 561.3,764.3 563.0,760.0 C565.6,753.3 568.1,750.4 570.7,747.0 C574.1,742.5 577.4,740.3 580.8,738.0 C586.4,734.1 592.1,733.4 597.7,732.0 C605.6,730.0 613.4,730.3 621.3,729.6 C630.9,728.8 640.4,727.5 650.0,727.5 C672.3,727.5 694.5,727.0 716.8,727.0" fill="none" stroke="#111" stroke-width="3.7" stroke-linejoin="round" stroke-linecap="butt" />
<path d="M254.5,743.5 C267.8,743.5 281.0,743.5 294.3,743.5 C310.0,743.5 325.6,746.6 341.3,754.4 C349.8,758.6 358.2,762.5 366.7,770.7 C373.9,777.7 381.2,784.9 388.4,797.8 C393.2,806.4 398.0,817.6 402.8,828.6 C407.0,838.3 411.3,850.6 415.5,859.3 C420.9,870.5 426.4,885.5 431.8,885.5 C436.6,885.5 441.5,885.5 446.3,885.5 C449.9,885.5 453.5,877.4 457.1,877.4 C460.1,877.4 463.2,877.4 466.2,877.4 C469.2,877.4 472.2,882.2 475.2,886.5 C477.6,889.9 480.0,894.7 482.4,899.1 C487.3,908.0 492.1,915.7 497.0,928.4 C501.7,940.8 506.5,959.7 511.2,973.9 C514.5,983.9 517.9,996.1 521.2,1002.4 C523.6,1006.9 525.9,1011.4 528.3,1011.0 C531.1,1010.5 534.0,1005.9 536.8,995.3 C538.7,988.2 540.6,981.6 542.5,966.8 C543.9,955.6 545.4,940.3 546.8,924.1 C547.8,913.1 548.7,899.3 549.7,888.5 C550.6,878.0 551.6,875.3 552.5,860.0 C552.9,852.9 553.4,842.4 553.8,835.0 C556.0,796.8 558.3,804.6 560.5,792.9 C562.8,781.0 565.0,772.3 567.3,764.2 C570.1,754.1 572.9,746.2 575.7,740.5 C579.7,732.4 583.6,730.6 587.6,729.6 C596.0,727.4 604.5,728.0 612.9,727.4 C625.3,726.5 637.6,725.5 650.0,725.5 C690.5,725.5 731.1,725.0 771.6,725.0" fill="none" stroke="#ff1010" stroke-width="3.7" stroke-linejoin="round" stroke-linecap="butt" />
<path d="M254.5,739.0 C267.8,739.0 281.0,739.0 294.3,741.3 C306.4,743.4 318.4,746.4 330.5,752.6 C339.5,757.3 348.6,761.8 357.6,770.7 C363.6,776.7 369.7,782.8 375.7,792.4 C381.7,802.0 387.8,811.7 393.8,828.6 C396.8,837.0 399.8,849.5 402.8,857.5 C407.6,870.4 412.5,883.7 417.3,883.7 C420.9,883.7 424.6,883.7 428.2,883.7 C431.8,883.7 435.4,872.0 439.0,866.6 C442.6,861.2 446.3,853.6 449.9,851.2 C454.1,848.4 458.3,851.2 462.5,853.9 C466.1,856.2 469.8,862.0 473.4,872.0 C475.8,878.6 478.2,889.0 480.6,897.0 C485.1,912.0 489.6,924.0 494.1,938.3 C498.9,953.4 503.6,971.5 508.4,985.3 C512.2,996.2 515.9,1013.8 519.7,1014.5 C523.0,1015.1 526.4,1007.7 529.7,995.3 C532.1,986.5 534.4,983.8 536.8,959.7 C537.8,949.9 538.7,936.2 539.7,924.1 C540.6,912.4 541.6,900.5 542.5,888.5 C543.2,879.1 544.0,868.0 544.7,860.0 C545.8,848.4 546.8,844.4 547.9,835.0 C549.3,822.7 550.7,803.7 552.1,792.9 C553.8,779.7 555.5,774.6 557.2,767.6 C559.4,758.4 561.7,753.0 563.9,747.3 C569.0,734.4 574.0,728.2 579.1,725.3 C586.4,721.1 593.7,721.9 601.0,721.1 C614.0,719.6 627.0,719.6 640.0,719.6 C683.9,719.6 727.7,719.4 771.6,719.4" fill="none" stroke="#0000ff" stroke-width="5.0" stroke-linejoin="round" stroke-linecap="butt" />
<path d="M254.5,740.0 C267.8,740.0 281.0,740.0 294.3,742.6 C303.3,744.4 312.4,748.5 321.4,753.5 C330.5,758.5 339.5,762.9 348.6,772.5 C354.6,778.9 360.7,786.6 366.7,796.0 C371.5,803.5 376.3,812.2 381.1,821.3 C385.3,829.3 389.6,839.7 393.8,846.7 C396.8,851.6 399.8,859.3 402.8,859.3 C406.4,859.3 410.1,859.3 413.7,859.3 C419.1,859.3 424.6,845.1 430.0,839.4 C433.0,836.2 436.0,831.9 439.0,830.7 C441.4,829.8 443.9,830.7 446.3,831.3 C449.9,832.2 453.5,840.1 457.1,846.7 C460.1,852.1 463.0,858.4 466.0,866.0 C469.3,874.5 472.7,885.9 476.0,896.0 C480.6,909.9 485.2,924.4 489.8,938.3 C494.6,952.7 499.3,968.3 504.1,981.0 C507.1,988.9 510.0,998.6 513.0,1003.0 C515.2,1006.3 517.5,1011.5 519.7,1008.1 C521.6,1005.2 523.5,997.4 525.4,988.2 C527.3,979.0 529.2,969.5 531.1,952.6 C532.2,942.5 533.4,929.3 534.5,917.0 C535.8,903.3 537.0,888.0 538.3,874.2 C539.5,860.7 540.8,847.0 542.0,835.1 C543.7,819.0 545.3,804.1 547.0,792.9 C548.7,781.5 550.4,774.8 552.1,767.6 C554.3,758.1 556.6,751.2 558.8,745.6 C561.6,738.5 564.5,736.1 567.3,732.9 C571.2,728.4 575.2,726.1 579.1,725.3 C587.5,723.6 596.0,723.6 604.4,723.6 C619.6,723.6 634.8,723.4 650.0,723.4 C690.5,723.4 731.1,723.4 771.6,723.4" fill="none" stroke="#ff00ff" stroke-width="3.7" stroke-linejoin="round" stroke-linecap="butt" />
<line x1="253.5" y1="1041.5" x2="794.1" y2="1041.5" stroke="#111" stroke-width="4"/>
<line x1="298.6" y1="1041.5" x2="298.6" y2="1037.0" stroke="#111" stroke-width="2.4"/>
<line x1="388.6" y1="1041.5" x2="388.6" y2="1037.0" stroke="#111" stroke-width="2.4"/>
<line x1="478.8" y1="1041.5" x2="478.8" y2="1037.0" stroke="#111" stroke-width="2.4"/>
<line x1="568.9" y1="1041.5" x2="568.9" y2="1037.0" stroke="#111" stroke-width="2.4"/>
<line x1="659.0" y1="1041.5" x2="659.0" y2="1037.0" stroke="#111" stroke-width="2.4"/>
<line x1="749.0" y1="1041.5" x2="749.0" y2="1037.0" stroke="#111" stroke-width="2.4"/>
<text class="b" x="234.30" y="1065.20" font-size="23.18" textLength="38.55" lengthAdjust="spacingAndGlyphs">220</text>
<text class="b" x="324.40" y="1065.20" font-size="23.18" textLength="38.55" lengthAdjust="spacingAndGlyphs">230</text>
<text class="b" x="414.50" y="1065.20" font-size="23.18" textLength="38.55" lengthAdjust="spacingAndGlyphs">240</text>
<text class="b" x="504.60" y="1065.20" font-size="23.18" textLength="38.55" lengthAdjust="spacingAndGlyphs">250</text>
<text class="b" x="594.70" y="1065.20" font-size="23.18" textLength="38.55" lengthAdjust="spacingAndGlyphs">260</text>
<text class="b" x="684.80" y="1065.20" font-size="23.18" textLength="38.55" lengthAdjust="spacingAndGlyphs">270</text>
<text class="b" x="774.90" y="1065.20" font-size="23.18" textLength="38.55" lengthAdjust="spacingAndGlyphs">280</text>
<text class="b" x="434.35" y="1098.40" font-size="23.69" textLength="177.58" lengthAdjust="spacingAndGlyphs">Temperature(°C)</text>
<text class="b" transform="rotate(-90)" x="-955.55" y="213.80" font-size="23.11" textLength="109.80" lengthAdjust="spacingAndGlyphs">Heat flow</text>
<text class="b" transform="rotate(-90)" x="-943.49" y="246.30" font-size="28.34" textLength="84.43" lengthAdjust="spacingAndGlyphs">Exo up</text>
<line x1="573.5" y1="898.3" x2="627.5" y2="898.3" stroke="#ff00ff" stroke-width="3.2"/>
<text class="b" x="632.37" y="905.10" font-size="22.53" textLength="44.58" lengthAdjust="spacingAndGlyphs">PET</text>
<line x1="573.5" y1="928.2" x2="627.5" y2="928.2" stroke="#0000ff" stroke-width="5.4"/>
<text class="b" x="632.37" y="935.60" font-size="21.95" textLength="157.26" lengthAdjust="spacingAndGlyphs">PET-UIO66-0.5</text>
<line x1="573.5" y1="957.8" x2="627.5" y2="957.8" stroke="#ff1010" stroke-width="3.2"/>
<text class="b" x="632.41" y="965.70" font-size="24.27" textLength="135.21" lengthAdjust="spacingAndGlyphs">PET-UIO66-1</text>
<line x1="573.5" y1="988.3" x2="627.5" y2="988.3" stroke="#222" stroke-width="3.2"/>
<text class="b" x="632.38" y="995.00" font-size="23.11" textLength="137.95" lengthAdjust="spacingAndGlyphs">PET-UIO66-3</text>
</svg>
</body></html>
